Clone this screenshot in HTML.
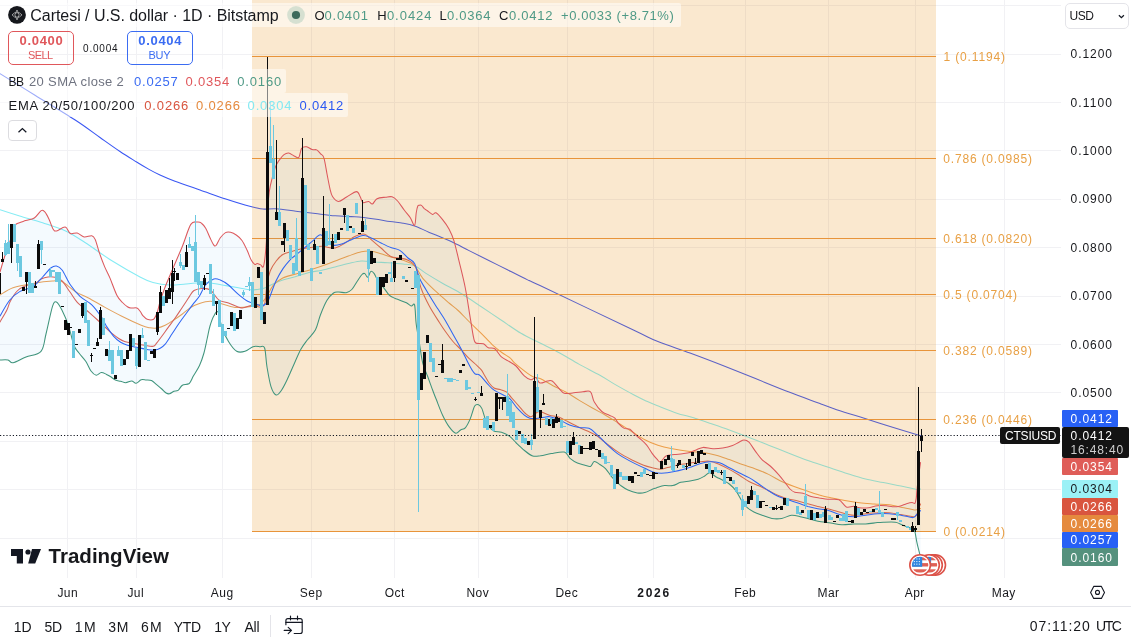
<!DOCTYPE html>
<html><head><meta charset="utf-8"><title>CTSIUSD</title>
<style>
html,body{margin:0;padding:0;background:#fff;}
body{width:1131px;height:641px;position:relative;overflow:hidden;font-family:"Liberation Sans",sans-serif;}
#ui{position:absolute;left:0;top:0;width:1131px;height:641px;will-change:transform;}
.t{position:absolute;white-space:nowrap;line-height:20px;height:20px;}
.b{position:absolute;}
svg{position:absolute;left:0;top:0;}
</style></head><body>

<div id="ui">
<svg width="1131" height="641" viewBox="0 0 1131 641">
<g stroke="#f1f1f4" stroke-width="1" shape-rendering="crispEdges">
<line x1="67.5" y1="0" x2="67.5" y2="578"/>
<line x1="136.5" y1="0" x2="136.5" y2="578"/>
<line x1="222.5" y1="0" x2="222.5" y2="578"/>
<line x1="311.5" y1="0" x2="311.5" y2="578"/>
<line x1="394.5" y1="0" x2="394.5" y2="578"/>
<line x1="478.5" y1="0" x2="478.5" y2="578"/>
<line x1="567.5" y1="0" x2="567.5" y2="578"/>
<line x1="653.5" y1="0" x2="653.5" y2="578"/>
<line x1="745.5" y1="0" x2="745.5" y2="578"/>
<line x1="828.5" y1="0" x2="828.5" y2="578"/>
<line x1="915.5" y1="0" x2="915.5" y2="578"/>
<line x1="1004.5" y1="0" x2="1004.5" y2="578"/>
<line x1="0" y1="5.5" x2="1061" y2="5.5"/>
<line x1="0" y1="54.5" x2="1061" y2="54.5"/>
<line x1="0" y1="102.5" x2="1061" y2="102.5"/>
<line x1="0" y1="150.5" x2="1061" y2="150.5"/>
<line x1="0" y1="199.5" x2="1061" y2="199.5"/>
<line x1="0" y1="247.5" x2="1061" y2="247.5"/>
<line x1="0" y1="296.5" x2="1061" y2="296.5"/>
<line x1="0" y1="344.5" x2="1061" y2="344.5"/>
<line x1="0" y1="392.5" x2="1061" y2="392.5"/>
<line x1="0" y1="441.5" x2="1061" y2="441.5"/>
<line x1="0" y1="489.5" x2="1061" y2="489.5"/>
<line x1="0" y1="538.5" x2="1061" y2="538.5"/>
</g>
<g fill="none" stroke-width="1.05" stroke-linejoin="round" stroke-linecap="round">
<path d="M0.0 73.6C5.8 77.2 22.5 87.5 35.0 95.2C47.5 102.9 64.4 113.0 75.2 120.0C86.0 127.0 92.5 132.2 100.0 137.5C107.5 142.8 113.9 147.4 120.0 151.5C126.1 155.6 131.8 159.0 136.6 162.0C141.4 165.0 145.1 167.2 149.0 169.4C152.9 171.6 155.7 173.0 160.0 175.0C164.3 177.0 168.3 178.7 175.0 181.2C181.7 183.7 191.7 187.1 200.0 190.0C208.3 192.9 217.5 196.3 225.0 198.8C232.5 201.3 240.1 203.6 245.0 205.0C249.9 206.4 251.7 206.7 254.7 207.4C257.7 208.1 259.4 208.9 263.0 209.1C266.6 209.3 270.7 208.5 276.2 208.8C281.7 209.2 289.3 210.4 295.9 211.2C302.4 212.0 308.9 212.7 315.5 213.5C322.1 214.3 328.6 215.2 335.2 215.8C341.8 216.4 348.2 216.3 354.8 216.8C361.4 217.3 368.6 218.2 374.5 219.0C380.4 219.8 385.2 220.9 390.0 221.6C394.8 222.3 398.9 222.5 403.0 223.2C407.1 223.9 410.2 224.4 414.6 225.9C419.0 227.4 423.6 230.0 429.3 232.4C435.0 234.8 442.4 237.6 449.0 240.6C455.6 243.6 462.1 247.1 468.6 250.4C475.2 253.7 481.8 256.9 488.3 260.2C494.9 263.5 501.3 266.7 507.9 270.0C514.4 273.3 522.2 277.3 527.6 279.9C533.0 282.5 522.4 277.1 540.0 285.5C557.6 293.9 613.8 320.7 633.4 330.0C653.0 339.3 648.5 337.7 657.9 341.5C667.3 345.3 679.2 349.0 690.0 353.0C700.8 357.0 711.9 361.2 722.8 365.5C733.7 369.8 744.6 374.2 755.5 378.6C766.4 383.0 777.4 387.6 788.3 391.8C799.2 396.0 812.4 400.7 821.0 403.9C829.6 407.1 833.6 408.6 840.0 410.8C846.4 413.0 851.4 414.2 859.6 416.8C867.8 419.4 879.4 423.2 889.3 426.3C899.2 429.4 913.7 433.7 918.9 435.2C924.1 436.7 920.2 435.4 920.5 435.5" stroke="#3a57f3"/>
<path d="M0.0 209.7C3.3 210.8 12.6 213.8 19.7 216.0C26.8 218.2 35.0 220.3 42.6 222.8C50.2 225.3 58.5 227.7 65.6 231.0C72.7 234.3 77.3 237.6 85.0 242.5C92.7 247.4 102.3 254.8 111.5 260.5C120.7 266.2 133.1 273.3 140.0 277.0C146.9 280.7 148.1 281.2 153.0 282.5C157.9 283.8 164.0 284.8 169.5 285.0C175.0 285.2 180.0 284.4 186.0 284.0C192.0 283.6 199.6 282.3 205.6 282.5C211.6 282.7 216.5 284.1 222.0 285.0C227.5 285.9 233.7 286.9 238.4 287.7C243.1 288.5 246.9 289.5 250.0 289.8C253.1 290.1 254.6 289.8 257.0 289.5C259.4 289.2 262.0 288.9 264.7 288.0C267.4 287.1 270.0 285.3 273.0 284.0C276.0 282.7 279.0 281.2 282.8 280.0C286.6 278.8 291.6 277.8 296.0 276.5C300.4 275.2 304.7 273.6 309.0 272.5C313.3 271.4 317.6 271.1 322.0 270.2C326.4 269.3 330.8 268.1 335.2 267.0C339.6 265.9 343.9 264.6 348.3 263.6C352.7 262.6 357.0 261.3 361.4 261.0C365.8 260.7 370.1 261.7 374.5 262.0C378.9 262.3 382.9 262.4 387.6 262.7C392.4 263.0 398.5 263.4 403.0 263.9C407.5 264.4 410.8 264.2 414.6 265.8C418.4 267.4 421.4 270.5 426.0 273.4C430.6 276.3 436.4 279.8 442.4 283.2C448.4 286.6 455.4 290.0 462.0 294.0C468.6 298.0 475.1 302.6 481.7 307.0C488.3 311.4 494.8 315.8 501.4 320.2C507.9 324.6 514.6 329.5 521.0 333.3C527.4 337.1 533.5 339.7 540.0 343.0C546.5 346.3 553.2 349.4 559.7 353.0C566.2 356.6 572.6 360.7 579.3 364.4C586.0 368.1 594.0 371.9 599.9 375.2C605.8 378.5 609.3 381.1 614.9 384.4C620.5 387.6 628.0 391.8 633.6 394.7C639.2 397.6 644.2 400.1 648.6 402.1C653.0 404.1 655.2 404.9 660.0 406.8C664.8 408.7 672.6 411.8 677.6 413.5C682.6 415.2 684.6 415.2 690.0 416.8C695.4 418.4 703.2 421.0 709.7 423.2C716.2 425.4 722.8 427.6 729.3 430.0C735.8 432.4 742.5 434.9 749.0 437.4C755.5 439.9 762.1 442.6 768.6 445.2C775.1 447.8 781.8 450.4 788.3 453.0C794.8 455.6 801.3 458.2 807.9 460.5C814.5 462.8 821.0 464.8 827.6 467.0C834.2 469.2 841.5 471.7 847.8 473.7C854.1 475.7 859.7 477.5 865.6 479.0C871.5 480.5 877.4 481.4 883.3 482.6C889.2 483.8 895.5 484.9 901.0 486.0C906.5 487.1 912.8 488.9 916.0 489.4C919.2 489.9 919.8 489.1 920.5 489.0" stroke="#86ecf4"/>
<path d="M0.0 295.0C2.2 293.8 7.5 289.6 13.0 287.7C18.5 285.8 26.2 284.5 32.8 283.4C39.4 282.3 47.6 281.3 52.5 281.0C57.4 280.7 58.5 280.0 62.3 281.8C66.1 283.6 71.0 288.9 75.4 291.6C79.8 294.3 83.6 295.4 88.5 298.0C93.4 300.6 99.5 304.4 105.0 307.4C110.5 310.4 115.3 313.0 121.3 316.0C127.3 319.0 136.4 323.2 141.2 325.2C145.9 327.2 147.2 327.3 149.8 327.8C152.4 328.3 154.0 328.5 156.6 328.1C159.2 327.7 162.3 326.6 165.2 325.2C168.1 323.8 170.9 321.9 173.8 320.0C176.7 318.1 179.5 316.1 182.4 314.0C185.3 311.9 188.2 309.0 191.0 307.2C193.8 305.4 196.3 304.4 199.5 303.4C202.7 302.4 206.8 301.3 210.0 301.2C213.2 301.1 214.5 302.0 218.7 303.0C222.9 304.0 229.5 306.8 235.0 307.4C240.5 308.0 247.4 306.9 251.5 306.4C255.6 305.9 257.3 306.1 259.8 304.5C262.3 302.9 264.2 300.1 266.4 297.0C268.6 293.9 270.3 288.8 273.0 285.6C275.7 282.4 279.0 279.9 282.8 278.0C286.6 276.1 291.5 275.3 295.9 274.0C300.3 272.7 304.6 271.5 309.0 270.2C313.4 268.9 317.6 267.5 322.0 266.0C326.4 264.5 330.8 262.7 335.2 261.0C339.6 259.3 343.9 257.5 348.3 256.0C352.7 254.5 357.6 252.6 361.4 251.8C365.2 251.0 367.9 250.9 371.2 251.2C374.5 251.5 377.7 252.8 381.0 253.8C384.3 254.8 387.1 255.9 390.8 257.0C394.5 258.1 399.0 258.7 403.0 260.2C407.0 261.7 411.3 262.8 414.6 265.8C417.9 268.8 419.2 274.0 422.8 278.3C426.4 282.6 431.5 287.3 435.9 291.4C440.3 295.5 445.3 299.8 449.0 303.0C452.7 306.2 454.8 307.4 458.1 310.5C461.4 313.6 465.1 317.6 469.0 321.5C472.9 325.4 477.6 329.7 481.5 333.6C485.4 337.5 489.0 341.7 492.4 344.8C495.8 347.9 498.9 350.3 501.8 352.5C504.7 354.7 507.9 356.1 510.0 357.8C512.1 359.5 511.6 360.2 514.5 362.8C517.4 365.4 524.4 370.9 527.6 373.3C530.9 375.7 531.9 376.3 534.0 377.2C536.1 378.1 536.8 377.1 540.0 378.5C543.2 379.9 548.6 383.4 553.0 385.7C557.4 388.0 561.8 389.8 566.2 392.2C570.6 394.6 574.9 397.8 579.3 400.4C583.7 403.0 588.0 405.5 592.4 408.0C596.8 410.5 601.1 412.6 605.5 415.2C609.9 417.8 614.2 420.6 618.6 423.3C623.0 426.0 627.3 428.8 631.7 431.5C636.1 434.2 640.4 437.4 644.8 439.7C649.2 442.0 653.5 443.8 657.9 445.3C662.3 446.8 665.6 447.6 671.0 448.6C676.4 449.6 684.7 450.9 690.0 451.5C695.3 452.1 698.6 451.8 703.0 452.4C707.4 453.0 711.8 454.1 716.2 455.3C720.6 456.5 724.9 458.1 729.3 459.6C733.7 461.1 738.0 462.9 742.4 464.5C746.8 466.1 751.1 467.2 755.5 468.9C759.9 470.5 764.2 472.3 768.6 474.4C773.0 476.5 777.3 479.4 781.7 481.5C786.1 483.6 790.4 485.1 794.8 486.7C799.2 488.3 803.5 489.8 807.9 491.3C812.3 492.8 817.3 494.6 821.0 495.6C824.7 496.6 826.0 496.7 830.0 497.5C834.0 498.3 839.9 499.5 844.8 500.4C849.7 501.3 854.7 502.1 859.6 502.7C864.5 503.3 869.5 503.6 874.4 504.0C879.3 504.4 884.4 504.2 889.3 504.8C894.2 505.4 899.8 507.0 904.0 507.8C908.2 508.6 911.9 509.6 914.4 509.9C916.9 510.1 917.9 509.5 918.9 509.3C919.9 509.1 920.2 508.6 920.5 508.5" stroke="#eea257"/>
<path d="M0.0 322.0C1.1 320.0 5.2 313.4 6.9 310.0C8.6 306.6 8.6 304.5 10.3 301.3C12.0 298.1 14.6 293.6 17.2 291.0C19.8 288.4 22.9 286.9 25.7 285.8C28.5 284.7 31.7 285.2 34.3 284.1C36.9 283.0 38.9 280.2 41.2 279.0C43.5 277.8 45.7 277.2 48.0 276.9C50.3 276.6 52.6 276.6 54.9 277.2C57.2 277.8 59.3 278.2 61.8 280.7C64.3 283.2 67.4 288.4 70.0 292.0C72.6 295.6 74.1 298.9 77.3 302.3C80.5 305.7 86.0 309.7 89.3 312.6C92.6 315.5 94.4 317.1 97.0 319.5C99.6 321.9 102.6 324.7 105.0 327.0C107.4 329.3 109.4 331.4 111.6 333.2C113.8 335.0 115.8 336.6 118.0 338.0C120.2 339.4 121.9 340.6 124.6 341.5C127.3 342.4 131.0 342.9 134.3 343.5C137.6 344.1 141.4 344.8 144.6 345.3C147.8 345.8 151.2 346.7 153.2 346.3C155.2 345.9 155.2 344.9 156.6 343.2C158.0 341.5 159.8 339.0 161.8 336.3C163.8 333.6 166.3 330.0 168.6 326.9C170.9 323.8 173.2 320.8 175.5 317.5C177.8 314.2 180.1 310.6 182.4 307.2C184.7 303.8 187.3 299.7 189.2 296.9C191.1 294.1 191.8 291.9 194.0 290.5C196.2 289.1 199.6 288.5 202.3 288.4C205.1 288.3 207.8 288.1 210.5 290.0C213.2 291.9 215.7 297.6 218.7 299.8C221.7 302.0 224.7 301.6 228.5 303.0C232.3 304.4 237.8 307.6 241.6 308.0C245.4 308.4 248.5 305.6 251.5 305.4C254.5 305.2 257.6 307.3 259.8 307.0C262.0 306.7 263.5 307.4 264.7 303.6C265.9 299.8 266.1 289.5 267.0 284.0C267.9 278.5 268.8 274.6 270.3 270.8C271.8 267.0 274.1 263.7 276.2 261.0C278.3 258.3 280.1 256.1 282.8 254.5C285.5 252.9 289.3 252.2 292.6 251.2C295.9 250.2 299.1 249.2 302.4 248.6C305.7 247.9 308.9 247.7 312.2 247.3C315.5 246.9 318.2 246.2 322.0 246.3C325.8 246.4 331.4 248.6 335.2 248.0C339.0 247.4 341.7 244.9 345.0 243.0C348.3 241.1 351.5 238.0 354.8 236.5C358.1 235.0 361.9 233.7 364.6 234.2C367.3 234.7 368.5 237.4 371.2 239.7C373.9 242.0 377.7 245.2 381.0 248.0C384.3 250.8 387.7 254.8 390.8 256.5C393.9 258.2 396.9 257.4 399.8 258.0C402.7 258.6 405.4 258.7 408.0 260.2C410.6 261.7 413.3 262.2 415.5 266.8C417.7 271.4 418.7 281.5 421.0 288.0C423.3 294.5 426.2 300.2 429.3 306.0C432.4 311.8 436.7 318.2 439.4 322.5C442.1 326.8 443.3 328.6 445.6 331.8C447.9 335.1 450.8 339.0 453.4 342.0C456.0 345.0 458.6 347.1 461.2 349.8C463.8 352.5 466.4 355.8 469.0 358.4C471.6 361.0 474.7 363.4 476.8 365.4C478.9 367.3 480.2 368.4 481.5 370.1C482.8 371.8 483.3 373.3 484.6 375.5C485.9 377.7 487.7 381.2 489.3 383.3C490.9 385.4 492.2 386.9 494.0 388.0C495.8 389.1 498.1 389.0 500.2 389.6C502.3 390.2 504.6 390.6 506.4 391.9C508.2 393.2 509.1 395.0 511.2 397.3C513.2 399.6 516.2 403.0 518.7 405.8C521.2 408.6 524.2 412.4 526.2 414.2C528.2 416.0 529.4 417.0 531.0 416.8C532.6 416.6 534.5 413.9 536.0 413.0C537.5 412.1 537.8 411.1 540.0 411.5C542.2 411.9 546.3 414.3 549.4 415.2C552.5 416.1 555.6 416.0 558.7 417.1C561.8 418.2 565.0 420.2 568.1 421.8C571.2 423.4 574.3 425.0 577.4 426.5C580.5 428.0 583.7 429.3 586.8 430.8C589.9 432.3 593.1 433.3 596.2 435.3C599.3 437.3 602.4 440.4 605.5 442.8C608.6 445.2 611.8 447.7 614.9 449.9C618.0 452.1 621.1 454.1 624.2 455.9C627.3 457.7 630.5 459.2 633.6 460.7C636.7 462.2 639.9 463.7 643.0 464.9C646.1 466.1 649.5 467.0 652.3 467.7C655.1 468.4 657.4 469.3 660.0 469.3C662.6 469.3 664.8 468.3 667.7 467.6C670.6 466.9 673.9 465.7 677.6 465.0C681.3 464.3 686.3 463.7 690.0 463.2C693.7 462.7 696.5 462.1 699.8 461.8C703.1 461.5 706.4 460.8 709.7 461.2C713.0 461.6 716.2 463.1 719.5 464.5C722.8 465.9 726.0 467.6 729.3 469.4C732.5 471.1 735.7 473.0 739.0 475.0C742.3 477.0 745.7 479.7 749.0 481.5C752.3 483.3 755.5 484.3 758.8 485.8C762.1 487.3 765.3 489.1 768.6 490.7C771.9 492.3 775.1 494.2 778.4 495.6C781.7 497.0 785.0 498.0 788.3 498.9C791.6 499.8 794.7 500.2 798.0 501.0C801.3 501.8 804.6 502.9 807.9 503.8C811.2 504.7 814.4 505.6 817.7 506.4C821.0 507.2 823.6 507.6 827.6 508.7C831.6 509.8 837.5 511.7 841.9 512.8C846.2 513.9 849.8 515.1 853.7 515.2C857.7 515.4 861.7 514.1 865.6 513.7C869.5 513.3 873.5 512.9 877.4 512.8C881.3 512.6 885.4 512.5 889.3 512.8C893.2 513.1 897.0 514.0 901.0 514.6C905.0 515.2 910.4 516.6 913.0 516.7C915.6 516.8 915.5 516.7 916.5 515.2C917.5 513.7 918.2 509.7 918.9 507.8C919.6 505.9 920.2 504.6 920.5 504.0" stroke="#de5f55"/>
</g>
<rect x="252" y="0" width="684" height="531.5" fill="rgb(230,140,15)" fill-opacity="0.2"/>
<g stroke="#e8943a" stroke-width="1" shape-rendering="crispEdges">
<line x1="252" y1="56.5" x2="936" y2="56.5"/>
<line x1="252" y1="158.5" x2="936" y2="158.5"/>
<line x1="252" y1="238.5" x2="936" y2="238.5"/>
<line x1="252" y1="294.5" x2="936" y2="294.5"/>
<line x1="252" y1="350.5" x2="936" y2="350.5"/>
<line x1="252" y1="419.5" x2="936" y2="419.5"/>
<line x1="252" y1="531.5" x2="936" y2="531.5"/>
</g>
<path d="M0.0 272.0C0.8 269.2 3.4 260.3 5.1 255.0C6.8 249.7 8.9 244.8 10.3 240.3C11.7 235.9 12.7 231.0 13.7 228.3C14.7 225.6 14.3 225.3 16.3 224.0C18.3 222.7 22.7 221.6 25.7 220.6C28.7 219.6 31.7 219.7 34.3 218.0C36.9 216.3 39.5 211.7 41.2 210.6C42.9 209.5 43.3 210.3 44.6 211.7C45.9 213.1 47.5 216.0 48.9 218.9C50.3 221.8 51.9 227.2 53.2 229.2C54.5 231.2 54.6 231.2 56.6 230.9C58.6 230.6 62.9 226.7 65.2 227.1C67.5 227.5 68.4 232.5 70.4 233.5C72.4 234.5 74.9 232.4 77.2 233.0C79.5 233.6 81.7 236.5 84.1 236.9C86.5 237.3 89.9 235.3 91.8 235.7C93.7 236.1 93.9 236.6 95.2 239.5C96.5 242.4 97.9 248.6 99.5 253.2C101.1 257.8 103.0 262.8 104.7 266.9C106.5 271.0 108.0 273.3 110.0 278.1C112.0 282.9 114.9 291.4 117.0 295.5C119.1 299.6 120.7 300.6 122.5 302.5C124.3 304.4 126.3 306.1 127.8 307.0C129.3 307.9 130.0 307.8 131.5 308.0C133.0 308.2 135.4 307.4 136.9 308.0C138.4 308.6 139.3 310.2 140.3 311.5C141.3 312.8 141.8 314.4 142.9 315.7C144.1 317.0 145.5 318.6 147.2 319.2C148.9 319.8 151.8 320.1 153.2 319.5C154.6 318.9 155.1 317.0 155.8 315.7C156.5 314.4 156.8 313.8 157.5 311.5C158.2 309.2 158.8 305.9 160.0 302.0C161.2 298.1 162.5 293.9 164.6 288.4C166.7 282.8 169.8 275.8 172.8 268.7C175.8 261.6 179.6 253.1 182.6 245.7C185.6 238.3 188.3 228.3 190.8 224.4C193.3 220.5 195.6 222.2 197.4 222.0C199.2 221.8 200.1 222.1 201.5 223.2C202.9 224.2 204.3 225.9 205.7 228.3C207.1 230.7 208.7 235.1 210.0 237.8C211.3 240.5 212.5 243.3 213.5 244.6C214.5 245.9 214.9 246.6 216.0 245.5C217.1 244.4 218.7 240.0 220.3 237.8C221.9 235.7 223.8 233.5 225.5 232.6C227.2 231.7 228.8 231.9 230.6 232.3C232.4 232.7 234.7 233.9 236.6 235.2C238.5 236.5 240.1 237.9 241.8 240.3C243.5 242.7 245.3 246.5 246.9 249.8C248.5 253.1 249.9 257.7 251.2 260.1C252.5 262.5 253.7 263.8 254.7 264.4C255.7 265.0 256.2 263.4 257.2 263.5C258.2 263.6 259.7 264.3 260.7 264.9C261.7 265.5 262.5 268.0 263.2 266.9C263.9 265.8 264.4 262.6 264.9 258.3C265.4 254.1 265.8 251.1 266.4 241.4C267.0 231.7 267.7 209.5 268.4 200.0C269.1 190.5 269.5 189.7 270.7 184.2C271.9 178.7 274.0 171.1 275.4 167.1C276.8 163.1 277.9 162.2 279.3 160.1C280.7 158.0 282.4 155.8 284.0 154.6C285.6 153.4 287.0 152.8 288.7 153.0C290.4 153.2 292.4 155.2 294.1 155.9C295.8 156.6 297.6 158.7 298.8 157.4C300.1 156.2 300.3 150.2 301.6 148.4C302.9 146.6 304.9 146.6 306.6 146.8C308.4 147.0 310.4 149.1 312.1 149.6C313.8 150.1 315.3 149.2 316.7 149.9C318.1 150.6 319.4 152.5 320.6 153.8C321.8 155.1 322.8 154.4 323.8 157.7C324.9 160.9 325.9 168.1 326.9 173.3C327.9 178.5 329.1 185.0 330.0 188.9C330.9 192.8 331.1 194.4 332.5 196.5C333.9 198.6 336.0 201.3 338.4 201.4C340.8 201.5 343.6 198.6 346.6 197.0C349.6 195.4 354.2 191.6 356.5 191.6C358.8 191.6 359.1 195.0 360.2 196.8C361.3 198.6 361.6 201.7 363.0 202.5C364.4 203.3 367.0 201.2 368.6 201.5C370.2 201.8 371.0 204.5 372.4 204.0C373.8 203.5 374.8 199.8 377.0 198.7C379.2 197.6 383.0 197.5 385.5 197.2C388.0 196.9 390.0 196.2 392.0 196.8C394.0 197.4 395.6 198.8 397.6 201.0C399.6 203.2 402.1 207.2 404.2 210.0C406.3 212.8 408.6 215.1 410.3 217.7C412.0 220.3 413.6 226.2 414.6 225.4C415.6 224.6 415.7 216.2 416.2 213.0C416.7 209.8 417.2 207.3 417.8 206.0C418.4 204.7 419.0 205.3 419.6 205.2C420.2 205.1 420.7 204.8 421.5 205.4C422.3 206.0 423.4 207.8 424.3 208.7C425.2 209.5 425.6 209.6 427.0 210.5C428.4 211.4 431.1 214.0 432.6 214.4C434.1 214.8 434.3 212.0 435.9 212.8C437.5 213.6 440.2 216.6 442.4 219.3C444.6 222.0 447.1 225.4 449.0 229.0C450.9 232.6 452.3 235.4 453.9 240.6C455.5 245.8 456.9 252.3 458.8 260.2C460.7 268.1 463.4 278.4 465.3 288.0C467.2 297.6 468.8 309.4 470.2 317.6C471.6 325.8 472.6 333.0 473.5 337.2C474.4 341.4 474.2 341.9 475.8 343.0C477.4 344.1 481.3 343.0 483.4 343.8C485.5 344.6 486.4 346.9 488.3 347.7C490.2 348.5 492.6 347.2 494.8 348.7C497.0 350.2 498.9 354.7 501.4 356.9C503.9 359.1 507.2 360.3 509.6 361.8C512.0 363.3 513.5 363.6 516.0 366.0C518.5 368.4 521.8 373.6 524.3 375.9C526.8 378.2 528.9 379.5 530.8 379.8C532.7 380.1 534.3 377.0 535.8 377.5C537.3 378.0 538.0 382.4 540.0 383.0C542.0 383.6 545.5 381.3 547.5 381.0C549.5 380.7 550.3 379.8 552.2 381.0C554.1 382.2 556.7 386.1 558.7 388.1C560.7 390.2 561.8 392.5 564.3 393.3C566.8 394.1 570.6 393.1 573.7 392.8C576.8 392.6 580.2 392.0 583.0 391.8C585.8 391.6 588.6 390.1 590.5 391.8C592.4 393.5 592.4 398.8 594.3 402.1C596.2 405.4 599.3 409.3 601.8 411.5C604.3 413.7 607.1 414.1 609.3 415.2C611.5 416.3 613.3 416.7 614.9 418.1C616.5 419.5 617.0 422.0 618.6 423.7C620.2 425.4 622.3 427.5 624.2 428.4C626.1 429.3 628.0 428.2 629.9 429.3C631.8 430.4 633.6 433.2 635.5 434.9C637.4 436.6 639.2 437.9 641.1 439.6C643.0 441.3 644.8 442.9 646.7 445.2C648.6 447.5 650.6 451.3 652.3 453.6C654.0 455.9 655.6 457.8 657.0 459.2C658.4 460.6 659.0 462.4 660.5 461.9C662.0 461.4 663.7 457.2 666.0 456.0C668.3 454.8 671.5 454.9 674.3 454.5C677.0 454.1 679.9 454.2 682.5 453.8C685.1 453.4 687.6 453.1 690.0 452.4C692.4 451.7 694.4 450.5 696.6 449.7C698.8 448.9 700.3 447.6 703.0 447.4C705.7 447.2 709.7 448.6 713.0 448.7C716.3 448.8 719.5 448.5 722.8 448.0C726.1 447.5 729.9 446.5 732.6 445.5C735.3 444.5 737.1 443.1 739.0 442.2C740.9 441.3 742.3 440.0 744.0 440.0C745.7 440.0 747.1 440.3 749.0 442.2C750.9 444.1 753.3 448.5 755.5 451.4C757.7 454.3 759.5 457.2 762.0 459.6C764.5 462.0 767.5 463.6 770.2 466.0C772.9 468.4 775.9 471.6 778.4 474.3C780.9 477.1 783.1 480.1 785.0 482.5C786.9 484.9 788.4 487.4 790.0 489.0C791.6 490.6 792.6 491.6 794.8 492.3C797.0 493.0 800.3 492.6 803.0 493.3C805.7 494.0 808.5 495.8 811.2 496.6C813.9 497.4 816.7 497.4 819.4 497.9C822.1 498.3 824.4 499.0 827.6 499.3C830.9 499.6 835.8 498.5 838.9 499.8C842.0 501.1 843.8 505.8 846.3 506.9C848.8 508.0 851.5 506.1 853.7 506.3C855.9 506.5 857.1 507.6 859.6 507.8C862.1 508.1 865.5 508.2 868.5 507.8C871.5 507.4 874.4 506.0 877.4 505.7C880.4 505.4 883.8 505.6 886.3 505.8C888.8 506.0 890.2 506.6 892.4 506.7C894.6 506.8 897.1 506.7 899.5 506.2C901.9 505.7 904.4 504.3 906.5 503.7C908.6 503.1 910.6 502.6 912.0 502.5C913.4 502.4 914.2 504.1 914.9 503.4C915.6 502.6 915.9 500.3 916.3 498.0C916.6 495.7 916.6 493.3 917.0 489.6C917.4 485.9 918.0 480.3 918.6 475.8C919.2 471.3 920.2 464.7 920.5 462.5L920.6 557.0C920.5 556.5 920.4 556.6 919.8 554.2C919.2 551.9 917.8 546.6 917.0 542.9C916.2 539.1 915.5 533.9 914.9 531.7C914.3 529.5 914.2 530.2 913.5 529.6C912.8 529.0 912.1 528.8 910.7 528.2C909.3 527.6 906.8 526.8 905.0 526.1C903.2 525.4 901.8 524.6 900.2 524.0C898.6 523.4 897.9 522.5 895.2 522.2C892.5 521.9 887.0 522.1 884.0 522.2C881.0 522.3 880.5 522.3 877.4 522.6C874.3 522.9 869.5 523.8 865.6 524.0C861.7 524.2 857.7 523.9 853.7 524.0C849.8 524.1 845.7 524.9 841.9 524.7C838.1 524.5 834.3 523.5 830.8 523.0C827.3 522.5 824.3 522.4 821.0 521.8C817.7 521.2 814.5 520.3 811.2 519.5C807.9 518.7 804.7 517.6 801.4 516.9C798.1 516.2 794.8 514.9 791.5 515.2C788.2 515.5 785.0 518.0 781.7 518.5C778.4 519.0 775.2 519.0 771.9 518.5C768.6 518.0 765.0 516.3 762.0 515.2C759.0 514.1 756.4 513.2 753.9 512.0C751.4 510.8 749.2 509.4 747.3 507.7C745.4 506.0 744.3 504.8 742.4 502.0C740.5 499.2 738.1 493.7 735.9 490.7C733.7 487.7 731.5 485.8 729.3 484.0C727.1 482.2 725.0 481.4 722.8 480.2C720.6 479.0 718.4 478.2 716.2 477.0C714.0 475.8 711.6 472.9 709.7 472.7C707.8 472.5 706.6 474.9 704.7 476.0C702.8 477.1 700.7 478.4 698.2 479.2C695.8 480.0 692.9 480.5 690.0 481.0C687.1 481.5 683.7 481.5 680.8 482.3C677.9 483.1 675.4 485.1 672.7 485.6C670.0 486.2 667.2 485.2 664.5 485.6C661.8 486.0 658.3 487.3 656.3 487.9C654.3 488.5 654.2 488.4 652.3 489.2C650.4 490.0 647.3 492.0 644.8 492.6C642.3 493.2 640.1 493.3 637.3 492.9C634.5 492.5 630.8 491.4 628.0 490.1C625.2 488.9 622.7 487.0 620.5 485.4C618.3 483.8 616.5 481.8 614.9 480.2C613.3 478.6 612.7 478.0 611.1 476.1C609.5 474.2 607.4 470.5 605.5 468.6C603.6 466.7 601.8 465.7 599.9 464.5C598.0 463.3 595.9 461.2 594.3 461.5C592.7 461.8 592.1 465.8 590.5 466.4C588.9 467.0 587.1 465.8 584.9 465.2C582.7 464.6 579.9 464.1 577.4 463.0C574.9 461.9 572.2 460.1 570.0 458.3C567.8 456.5 567.4 452.9 564.3 452.1C561.2 451.3 555.1 453.0 551.2 453.6C547.3 454.2 543.9 455.3 540.8 455.7C537.7 456.1 535.4 456.9 532.7 456.0C530.0 455.1 527.2 452.7 524.5 450.5C521.8 448.3 518.8 445.4 516.3 443.0C513.8 440.6 512.2 438.2 509.7 436.4C507.2 434.6 504.2 433.1 501.5 432.2C498.8 431.3 495.8 432.4 493.3 430.9C490.9 429.4 488.7 427.0 486.8 423.3C484.9 419.6 483.3 411.7 481.9 408.6C480.5 405.5 479.8 405.1 478.6 404.7C477.4 404.3 476.1 403.7 474.7 406.0C473.3 408.3 471.9 414.8 470.4 418.4C468.9 422.0 467.1 425.7 465.5 427.6C463.9 429.5 462.2 429.1 460.6 430.0C459.0 430.9 457.6 433.8 455.7 433.2C453.8 432.6 451.2 429.6 449.0 426.6C446.8 423.6 444.8 419.8 442.6 415.2C440.4 410.6 437.7 403.0 436.0 398.8C434.3 394.6 434.0 393.7 432.6 390.0C431.2 386.3 429.3 380.9 427.7 376.5C426.1 372.1 424.2 368.8 422.8 363.4C421.4 357.9 420.6 350.4 419.5 343.8C418.4 337.2 417.0 330.5 416.2 324.0C415.4 317.5 415.4 308.0 414.6 305.0C413.8 302.0 412.7 306.4 411.3 306.0C409.9 305.6 408.6 303.9 406.4 302.8C404.2 301.7 400.1 300.4 398.2 299.6C396.3 298.9 396.3 299.1 394.8 298.3C393.3 297.6 391.1 296.9 389.2 295.1C387.3 293.3 385.5 290.0 383.6 287.6C381.7 285.2 379.6 283.3 378.0 281.0C376.4 278.7 375.4 275.2 374.2 273.6C373.0 272.0 372.0 270.8 370.9 271.4C369.8 272.0 368.7 276.9 367.7 277.3C366.7 277.7 365.8 274.1 364.9 273.6C363.9 273.1 363.2 273.3 362.0 274.5C360.8 275.7 359.1 278.5 357.4 281.0C355.7 283.5 353.7 287.6 351.8 289.5C349.9 291.4 348.4 292.3 346.2 292.7C344.0 293.1 340.8 291.9 338.7 292.0C336.6 292.1 335.4 291.6 333.5 293.0C331.6 294.4 329.2 296.6 327.0 300.3C324.8 304.0 322.3 310.1 320.4 315.0C318.5 319.9 317.7 325.6 315.5 329.8C313.3 334.0 309.7 336.8 307.3 340.0C304.9 343.2 303.1 345.3 301.0 349.0C298.9 352.7 297.3 356.8 295.0 362.0C292.7 367.2 289.3 375.2 287.0 380.0C284.7 384.8 282.8 388.5 281.0 391.0C279.2 393.5 277.7 395.7 276.0 395.0C274.3 394.3 272.5 391.4 271.0 386.7C269.5 382.0 268.1 373.4 267.0 367.0C265.9 360.6 265.8 351.4 264.6 348.0C263.4 344.6 261.6 346.9 259.7 346.7C257.8 346.5 255.4 345.9 253.0 346.7C250.6 347.5 247.7 350.5 245.0 351.3C242.3 352.1 239.4 352.9 236.7 351.3C233.9 349.7 230.9 345.4 228.5 341.5C226.1 337.6 223.8 332.6 222.0 327.7C220.2 322.8 219.4 313.9 218.0 312.0C216.6 310.1 215.1 313.7 213.8 316.0C212.5 318.3 211.1 322.3 210.0 326.0C208.9 329.7 208.3 333.4 207.3 338.0C206.3 342.6 205.1 348.9 203.8 353.5C202.5 358.1 201.2 361.8 199.5 365.5C197.8 369.2 195.2 372.8 193.5 375.8C191.8 378.8 191.0 381.9 189.2 383.5C187.3 385.1 184.2 384.1 182.4 385.2C180.6 386.3 179.5 389.4 178.1 390.4C176.7 391.4 175.2 390.7 173.8 391.3C172.4 391.9 170.8 393.5 169.5 393.8C168.2 394.1 167.4 393.8 166.1 393.0C164.8 392.2 163.4 390.4 161.8 389.0C160.2 387.6 158.3 386.0 156.6 384.6C154.9 383.2 153.2 381.4 151.5 380.6C149.8 379.8 148.0 380.1 146.3 380.0C144.6 379.9 142.9 379.2 141.2 379.8C139.5 380.4 137.6 383.1 136.0 383.3C134.4 383.5 133.4 381.1 131.7 381.0C130.0 380.9 127.5 382.7 125.7 382.7C123.9 382.7 122.3 381.6 120.6 381.2C118.9 380.8 117.1 380.9 115.4 380.1C113.7 379.3 111.8 377.4 110.3 376.5C108.8 375.6 108.0 375.1 106.5 374.4C105.0 373.7 103.0 372.4 101.3 372.5C99.6 372.6 97.9 375.4 96.2 375.2C94.5 374.9 92.7 373.3 91.0 371.0C89.3 368.7 87.9 364.5 85.9 361.5C83.9 358.5 81.0 355.7 79.0 353.0C77.0 350.3 75.6 349.6 73.9 345.2C72.2 340.8 70.7 332.2 68.7 326.3C66.7 320.4 64.0 314.1 61.9 310.0C59.8 305.9 58.0 302.6 56.4 302.0C54.8 301.4 54.2 301.1 52.5 306.4C50.8 311.7 47.9 326.5 46.0 334.0C44.1 341.5 44.3 347.5 41.0 351.3C37.7 355.1 30.7 355.1 26.0 357.0C21.3 358.9 16.0 362.3 13.0 362.8C10.0 363.3 10.2 360.5 8.0 360.0C5.8 359.5 1.3 360.0 0.0 360.0Z" fill="rgb(33,150,243)" fill-opacity="0.05"/>
<g fill="none" stroke-width="1.05" stroke-linejoin="round" stroke-linecap="round">
<path d="M0.0 272.0C0.8 269.2 3.4 260.3 5.1 255.0C6.8 249.7 8.9 244.8 10.3 240.3C11.7 235.9 12.7 231.0 13.7 228.3C14.7 225.6 14.3 225.3 16.3 224.0C18.3 222.7 22.7 221.6 25.7 220.6C28.7 219.6 31.7 219.7 34.3 218.0C36.9 216.3 39.5 211.7 41.2 210.6C42.9 209.5 43.3 210.3 44.6 211.7C45.9 213.1 47.5 216.0 48.9 218.9C50.3 221.8 51.9 227.2 53.2 229.2C54.5 231.2 54.6 231.2 56.6 230.9C58.6 230.6 62.9 226.7 65.2 227.1C67.5 227.5 68.4 232.5 70.4 233.5C72.4 234.5 74.9 232.4 77.2 233.0C79.5 233.6 81.7 236.5 84.1 236.9C86.5 237.3 89.9 235.3 91.8 235.7C93.7 236.1 93.9 236.6 95.2 239.5C96.5 242.4 97.9 248.6 99.5 253.2C101.1 257.8 103.0 262.8 104.7 266.9C106.5 271.0 108.0 273.3 110.0 278.1C112.0 282.9 114.9 291.4 117.0 295.5C119.1 299.6 120.7 300.6 122.5 302.5C124.3 304.4 126.3 306.1 127.8 307.0C129.3 307.9 130.0 307.8 131.5 308.0C133.0 308.2 135.4 307.4 136.9 308.0C138.4 308.6 139.3 310.2 140.3 311.5C141.3 312.8 141.8 314.4 142.9 315.7C144.1 317.0 145.5 318.6 147.2 319.2C148.9 319.8 151.8 320.1 153.2 319.5C154.6 318.9 155.1 317.0 155.8 315.7C156.5 314.4 156.8 313.8 157.5 311.5C158.2 309.2 158.8 305.9 160.0 302.0C161.2 298.1 162.5 293.9 164.6 288.4C166.7 282.8 169.8 275.8 172.8 268.7C175.8 261.6 179.6 253.1 182.6 245.7C185.6 238.3 188.3 228.3 190.8 224.4C193.3 220.5 195.6 222.2 197.4 222.0C199.2 221.8 200.1 222.1 201.5 223.2C202.9 224.2 204.3 225.9 205.7 228.3C207.1 230.7 208.7 235.1 210.0 237.8C211.3 240.5 212.5 243.3 213.5 244.6C214.5 245.9 214.9 246.6 216.0 245.5C217.1 244.4 218.7 240.0 220.3 237.8C221.9 235.7 223.8 233.5 225.5 232.6C227.2 231.7 228.8 231.9 230.6 232.3C232.4 232.7 234.7 233.9 236.6 235.2C238.5 236.5 240.1 237.9 241.8 240.3C243.5 242.7 245.3 246.5 246.9 249.8C248.5 253.1 249.9 257.7 251.2 260.1C252.5 262.5 253.7 263.8 254.7 264.4C255.7 265.0 256.2 263.4 257.2 263.5C258.2 263.6 259.7 264.3 260.7 264.9C261.7 265.5 262.5 268.0 263.2 266.9C263.9 265.8 264.4 262.6 264.9 258.3C265.4 254.1 265.8 251.1 266.4 241.4C267.0 231.7 267.7 209.5 268.4 200.0C269.1 190.5 269.5 189.7 270.7 184.2C271.9 178.7 274.0 171.1 275.4 167.1C276.8 163.1 277.9 162.2 279.3 160.1C280.7 158.0 282.4 155.8 284.0 154.6C285.6 153.4 287.0 152.8 288.7 153.0C290.4 153.2 292.4 155.2 294.1 155.9C295.8 156.6 297.6 158.7 298.8 157.4C300.1 156.2 300.3 150.2 301.6 148.4C302.9 146.6 304.9 146.6 306.6 146.8C308.4 147.0 310.4 149.1 312.1 149.6C313.8 150.1 315.3 149.2 316.7 149.9C318.1 150.6 319.4 152.5 320.6 153.8C321.8 155.1 322.8 154.4 323.8 157.7C324.9 160.9 325.9 168.1 326.9 173.3C327.9 178.5 329.1 185.0 330.0 188.9C330.9 192.8 331.1 194.4 332.5 196.5C333.9 198.6 336.0 201.3 338.4 201.4C340.8 201.5 343.6 198.6 346.6 197.0C349.6 195.4 354.2 191.6 356.5 191.6C358.8 191.6 359.1 195.0 360.2 196.8C361.3 198.6 361.6 201.7 363.0 202.5C364.4 203.3 367.0 201.2 368.6 201.5C370.2 201.8 371.0 204.5 372.4 204.0C373.8 203.5 374.8 199.8 377.0 198.7C379.2 197.6 383.0 197.5 385.5 197.2C388.0 196.9 390.0 196.2 392.0 196.8C394.0 197.4 395.6 198.8 397.6 201.0C399.6 203.2 402.1 207.2 404.2 210.0C406.3 212.8 408.6 215.1 410.3 217.7C412.0 220.3 413.6 226.2 414.6 225.4C415.6 224.6 415.7 216.2 416.2 213.0C416.7 209.8 417.2 207.3 417.8 206.0C418.4 204.7 419.0 205.3 419.6 205.2C420.2 205.1 420.7 204.8 421.5 205.4C422.3 206.0 423.4 207.8 424.3 208.7C425.2 209.5 425.6 209.6 427.0 210.5C428.4 211.4 431.1 214.0 432.6 214.4C434.1 214.8 434.3 212.0 435.9 212.8C437.5 213.6 440.2 216.6 442.4 219.3C444.6 222.0 447.1 225.4 449.0 229.0C450.9 232.6 452.3 235.4 453.9 240.6C455.5 245.8 456.9 252.3 458.8 260.2C460.7 268.1 463.4 278.4 465.3 288.0C467.2 297.6 468.8 309.4 470.2 317.6C471.6 325.8 472.6 333.0 473.5 337.2C474.4 341.4 474.2 341.9 475.8 343.0C477.4 344.1 481.3 343.0 483.4 343.8C485.5 344.6 486.4 346.9 488.3 347.7C490.2 348.5 492.6 347.2 494.8 348.7C497.0 350.2 498.9 354.7 501.4 356.9C503.9 359.1 507.2 360.3 509.6 361.8C512.0 363.3 513.5 363.6 516.0 366.0C518.5 368.4 521.8 373.6 524.3 375.9C526.8 378.2 528.9 379.5 530.8 379.8C532.7 380.1 534.3 377.0 535.8 377.5C537.3 378.0 538.0 382.4 540.0 383.0C542.0 383.6 545.5 381.3 547.5 381.0C549.5 380.7 550.3 379.8 552.2 381.0C554.1 382.2 556.7 386.1 558.7 388.1C560.7 390.2 561.8 392.5 564.3 393.3C566.8 394.1 570.6 393.1 573.7 392.8C576.8 392.6 580.2 392.0 583.0 391.8C585.8 391.6 588.6 390.1 590.5 391.8C592.4 393.5 592.4 398.8 594.3 402.1C596.2 405.4 599.3 409.3 601.8 411.5C604.3 413.7 607.1 414.1 609.3 415.2C611.5 416.3 613.3 416.7 614.9 418.1C616.5 419.5 617.0 422.0 618.6 423.7C620.2 425.4 622.3 427.5 624.2 428.4C626.1 429.3 628.0 428.2 629.9 429.3C631.8 430.4 633.6 433.2 635.5 434.9C637.4 436.6 639.2 437.9 641.1 439.6C643.0 441.3 644.8 442.9 646.7 445.2C648.6 447.5 650.6 451.3 652.3 453.6C654.0 455.9 655.6 457.8 657.0 459.2C658.4 460.6 659.0 462.4 660.5 461.9C662.0 461.4 663.7 457.2 666.0 456.0C668.3 454.8 671.5 454.9 674.3 454.5C677.0 454.1 679.9 454.2 682.5 453.8C685.1 453.4 687.6 453.1 690.0 452.4C692.4 451.7 694.4 450.5 696.6 449.7C698.8 448.9 700.3 447.6 703.0 447.4C705.7 447.2 709.7 448.6 713.0 448.7C716.3 448.8 719.5 448.5 722.8 448.0C726.1 447.5 729.9 446.5 732.6 445.5C735.3 444.5 737.1 443.1 739.0 442.2C740.9 441.3 742.3 440.0 744.0 440.0C745.7 440.0 747.1 440.3 749.0 442.2C750.9 444.1 753.3 448.5 755.5 451.4C757.7 454.3 759.5 457.2 762.0 459.6C764.5 462.0 767.5 463.6 770.2 466.0C772.9 468.4 775.9 471.6 778.4 474.3C780.9 477.1 783.1 480.1 785.0 482.5C786.9 484.9 788.4 487.4 790.0 489.0C791.6 490.6 792.6 491.6 794.8 492.3C797.0 493.0 800.3 492.6 803.0 493.3C805.7 494.0 808.5 495.8 811.2 496.6C813.9 497.4 816.7 497.4 819.4 497.9C822.1 498.3 824.4 499.0 827.6 499.3C830.9 499.6 835.8 498.5 838.9 499.8C842.0 501.1 843.8 505.8 846.3 506.9C848.8 508.0 851.5 506.1 853.7 506.3C855.9 506.5 857.1 507.6 859.6 507.8C862.1 508.1 865.5 508.2 868.5 507.8C871.5 507.4 874.4 506.0 877.4 505.7C880.4 505.4 883.8 505.6 886.3 505.8C888.8 506.0 890.2 506.6 892.4 506.7C894.6 506.8 897.1 506.7 899.5 506.2C901.9 505.7 904.4 504.3 906.5 503.7C908.6 503.1 910.6 502.6 912.0 502.5C913.4 502.4 914.2 504.1 914.9 503.4C915.6 502.6 915.9 500.3 916.3 498.0C916.6 495.7 916.6 493.3 917.0 489.6C917.4 485.9 918.0 480.3 918.6 475.8C919.2 471.3 920.2 464.7 920.5 462.5" stroke="#dc585c"/>
<path d="M0.0 360.0C1.3 360.0 5.8 359.5 8.0 360.0C10.2 360.5 10.0 363.3 13.0 362.8C16.0 362.3 21.3 358.9 26.0 357.0C30.7 355.1 37.7 355.1 41.0 351.3C44.3 347.5 44.1 341.5 46.0 334.0C47.9 326.5 50.8 311.7 52.5 306.4C54.2 301.1 54.8 301.4 56.4 302.0C58.0 302.6 59.8 305.9 61.9 310.0C64.0 314.1 66.7 320.4 68.7 326.3C70.7 332.2 72.2 340.8 73.9 345.2C75.6 349.6 77.0 350.3 79.0 353.0C81.0 355.7 83.9 358.5 85.9 361.5C87.9 364.5 89.3 368.7 91.0 371.0C92.7 373.3 94.5 374.9 96.2 375.2C97.9 375.4 99.6 372.6 101.3 372.5C103.0 372.4 105.0 373.7 106.5 374.4C108.0 375.1 108.8 375.6 110.3 376.5C111.8 377.4 113.7 379.3 115.4 380.1C117.1 380.9 118.9 380.8 120.6 381.2C122.3 381.6 123.9 382.7 125.7 382.7C127.5 382.7 130.0 380.9 131.7 381.0C133.4 381.1 134.4 383.5 136.0 383.3C137.6 383.1 139.5 380.4 141.2 379.8C142.9 379.2 144.6 379.9 146.3 380.0C148.0 380.1 149.8 379.8 151.5 380.6C153.2 381.4 154.9 383.2 156.6 384.6C158.3 386.0 160.2 387.6 161.8 389.0C163.4 390.4 164.8 392.2 166.1 393.0C167.4 393.8 168.2 394.1 169.5 393.8C170.8 393.5 172.4 391.9 173.8 391.3C175.2 390.7 176.7 391.4 178.1 390.4C179.5 389.4 180.6 386.3 182.4 385.2C184.2 384.1 187.3 385.1 189.2 383.5C191.0 381.9 191.8 378.8 193.5 375.8C195.2 372.8 197.8 369.2 199.5 365.5C201.2 361.8 202.5 358.1 203.8 353.5C205.1 348.9 206.3 342.6 207.3 338.0C208.3 333.4 208.9 329.7 210.0 326.0C211.1 322.3 212.5 318.3 213.8 316.0C215.1 313.7 216.6 310.1 218.0 312.0C219.4 313.9 220.2 322.8 222.0 327.7C223.8 332.6 226.1 337.6 228.5 341.5C230.9 345.4 233.9 349.7 236.7 351.3C239.4 352.9 242.3 352.1 245.0 351.3C247.7 350.5 250.6 347.5 253.0 346.7C255.4 345.9 257.8 346.5 259.7 346.7C261.6 346.9 263.4 344.6 264.6 348.0C265.8 351.4 265.9 360.6 267.0 367.0C268.1 373.4 269.5 382.0 271.0 386.7C272.5 391.4 274.3 394.3 276.0 395.0C277.7 395.7 279.2 393.5 281.0 391.0C282.8 388.5 284.7 384.8 287.0 380.0C289.3 375.2 292.7 367.2 295.0 362.0C297.3 356.8 298.9 352.7 301.0 349.0C303.1 345.3 304.9 343.2 307.3 340.0C309.7 336.8 313.3 334.0 315.5 329.8C317.7 325.6 318.5 319.9 320.4 315.0C322.3 310.1 324.8 304.0 327.0 300.3C329.2 296.6 331.6 294.4 333.5 293.0C335.4 291.6 336.6 292.1 338.7 292.0C340.8 291.9 344.0 293.1 346.2 292.7C348.4 292.3 349.9 291.4 351.8 289.5C353.7 287.6 355.7 283.5 357.4 281.0C359.1 278.5 360.8 275.7 362.0 274.5C363.2 273.3 363.9 273.1 364.9 273.6C365.8 274.1 366.7 277.7 367.7 277.3C368.7 276.9 369.8 272.0 370.9 271.4C372.0 270.8 373.0 272.0 374.2 273.6C375.4 275.2 376.4 278.7 378.0 281.0C379.6 283.3 381.7 285.2 383.6 287.6C385.5 290.0 387.3 293.3 389.2 295.1C391.1 296.9 393.3 297.6 394.8 298.3C396.3 299.1 396.3 298.9 398.2 299.6C400.1 300.4 404.2 301.7 406.4 302.8C408.6 303.9 409.9 305.6 411.3 306.0C412.7 306.4 413.8 302.0 414.6 305.0C415.4 308.0 415.4 317.5 416.2 324.0C417.0 330.5 418.4 337.2 419.5 343.8C420.6 350.4 421.4 357.9 422.8 363.4C424.2 368.8 426.1 372.1 427.7 376.5C429.3 380.9 431.2 386.3 432.6 390.0C434.0 393.7 434.3 394.6 436.0 398.8C437.7 403.0 440.4 410.6 442.6 415.2C444.8 419.8 446.8 423.6 449.0 426.6C451.2 429.6 453.8 432.6 455.7 433.2C457.6 433.8 459.0 430.9 460.6 430.0C462.2 429.1 463.9 429.5 465.5 427.6C467.1 425.7 468.9 422.0 470.4 418.4C471.9 414.8 473.3 408.3 474.7 406.0C476.1 403.7 477.4 404.3 478.6 404.7C479.8 405.1 480.5 405.5 481.9 408.6C483.3 411.7 484.9 419.6 486.8 423.3C488.7 427.0 490.9 429.4 493.3 430.9C495.8 432.4 498.8 431.3 501.5 432.2C504.2 433.1 507.2 434.6 509.7 436.4C512.2 438.2 513.8 440.6 516.3 443.0C518.8 445.4 521.8 448.3 524.5 450.5C527.2 452.7 530.0 455.1 532.7 456.0C535.4 456.9 537.7 456.1 540.8 455.7C543.9 455.3 547.3 454.2 551.2 453.6C555.1 453.0 561.2 451.3 564.3 452.1C567.4 452.9 567.8 456.5 570.0 458.3C572.2 460.1 574.9 461.9 577.4 463.0C579.9 464.1 582.7 464.6 584.9 465.2C587.1 465.8 588.9 467.0 590.5 466.4C592.1 465.8 592.7 461.8 594.3 461.5C595.9 461.2 598.0 463.3 599.9 464.5C601.8 465.7 603.6 466.7 605.5 468.6C607.4 470.5 609.5 474.2 611.1 476.1C612.7 478.0 613.3 478.6 614.9 480.2C616.5 481.8 618.3 483.8 620.5 485.4C622.7 487.0 625.2 488.9 628.0 490.1C630.8 491.4 634.5 492.5 637.3 492.9C640.1 493.3 642.3 493.2 644.8 492.6C647.3 492.0 650.4 490.0 652.3 489.2C654.2 488.4 654.3 488.5 656.3 487.9C658.3 487.3 661.8 486.0 664.5 485.6C667.2 485.2 670.0 486.2 672.7 485.6C675.4 485.1 677.9 483.1 680.8 482.3C683.7 481.5 687.1 481.5 690.0 481.0C692.9 480.5 695.8 480.0 698.2 479.2C700.7 478.4 702.8 477.1 704.7 476.0C706.6 474.9 707.8 472.5 709.7 472.7C711.6 472.9 714.0 475.8 716.2 477.0C718.4 478.2 720.6 479.0 722.8 480.2C725.0 481.4 727.1 482.2 729.3 484.0C731.5 485.8 733.7 487.7 735.9 490.7C738.1 493.7 740.5 499.2 742.4 502.0C744.3 504.8 745.4 506.0 747.3 507.7C749.2 509.4 751.4 510.8 753.9 512.0C756.4 513.2 759.0 514.1 762.0 515.2C765.0 516.3 768.6 518.0 771.9 518.5C775.2 519.0 778.4 519.0 781.7 518.5C785.0 518.0 788.2 515.5 791.5 515.2C794.8 514.9 798.1 516.2 801.4 516.9C804.7 517.6 807.9 518.7 811.2 519.5C814.5 520.3 817.7 521.2 821.0 521.8C824.3 522.4 827.3 522.5 830.8 523.0C834.3 523.5 838.1 524.5 841.9 524.7C845.7 524.9 849.8 524.1 853.7 524.0C857.7 523.9 861.7 524.2 865.6 524.0C869.5 523.8 874.3 522.9 877.4 522.6C880.5 522.3 881.0 522.3 884.0 522.2C887.0 522.1 892.5 521.9 895.2 522.2C897.9 522.5 898.6 523.4 900.2 524.0C901.8 524.6 903.2 525.4 905.0 526.1C906.8 526.8 909.3 527.6 910.7 528.2C912.1 528.8 912.8 529.0 913.5 529.6C914.2 530.2 914.3 529.5 914.9 531.7C915.5 533.9 916.2 539.1 917.0 542.9C917.8 546.6 919.2 551.9 919.8 554.2C920.4 556.6 920.5 556.5 920.6 557.0" stroke="#3f947c"/>
<path d="M0.0 316.0C1.6 313.3 6.5 304.1 9.8 300.0C13.1 295.9 15.9 293.8 19.7 291.6C23.5 289.4 29.0 289.1 32.8 286.7C36.6 284.3 39.6 280.1 42.6 277.0C45.6 273.9 48.5 269.8 50.8 268.0C53.1 266.2 54.5 265.6 56.4 266.0C58.3 266.4 59.9 267.1 62.3 270.3C64.6 273.5 67.5 280.6 70.5 285.0C73.5 289.4 76.8 293.3 80.3 296.6C83.8 299.9 88.3 301.4 91.8 304.8C95.3 308.2 98.8 313.2 101.3 316.9C103.8 320.6 104.8 323.7 106.9 326.9C109.0 330.1 111.4 333.7 113.7 336.3C116.0 338.9 118.3 340.8 120.6 342.3C122.9 343.8 124.6 344.4 127.5 345.3C130.4 346.2 134.4 346.8 137.8 347.5C141.2 348.2 145.2 349.3 148.1 349.7C150.9 350.1 152.9 350.3 154.9 350.1C156.9 349.9 158.4 349.3 160.1 348.3C161.8 347.3 163.2 346.5 165.2 344.1C167.2 341.7 169.8 337.2 172.1 333.8C174.4 330.4 176.6 326.8 178.9 323.5C181.2 320.2 183.5 317.1 185.8 314.0C188.1 310.9 190.4 307.6 192.7 304.6C195.0 301.6 197.3 299.3 199.5 296.0C201.7 292.7 203.2 287.8 205.6 285.0C208.0 282.2 211.4 279.8 213.8 279.0C216.2 278.2 217.9 279.0 220.3 280.0C222.8 281.0 225.5 282.6 228.5 285.0C231.5 287.4 235.1 291.6 238.4 294.3C241.7 297.1 244.9 299.8 248.2 301.5C251.5 303.2 255.7 304.1 258.0 304.8C260.3 305.6 260.8 306.1 262.0 306.0C263.2 305.9 264.4 305.0 265.5 304.0C266.6 303.0 267.4 302.2 268.5 300.0C269.6 297.8 270.7 294.2 272.0 291.0C273.3 287.8 274.3 284.4 276.1 280.7C277.9 277.0 280.7 272.1 283.0 268.6C285.3 265.2 288.2 262.0 290.0 260.0C291.8 258.0 291.9 258.2 294.0 256.5C296.1 254.8 299.4 252.1 302.4 249.6C305.4 247.1 309.2 243.9 312.2 241.4C315.2 238.9 317.9 234.8 320.4 234.8C322.9 234.8 324.8 239.7 327.0 241.4C329.2 243.2 331.1 244.9 333.5 245.3C335.9 245.7 338.7 244.9 341.7 244.0C344.7 243.1 347.9 241.1 351.5 239.7C355.1 238.3 359.7 235.8 363.0 235.5C366.3 235.2 368.2 236.8 371.2 238.0C374.2 239.2 377.7 241.4 381.0 243.0C384.3 244.6 387.7 246.3 390.8 247.5C393.9 248.7 396.9 248.7 399.8 250.4C402.7 252.2 405.5 255.8 408.0 258.0C410.5 260.2 412.7 260.1 414.6 263.5C416.5 266.9 417.6 273.9 419.5 278.3C421.4 282.7 423.3 285.1 426.0 289.7C428.7 294.3 433.8 302.6 435.9 306.0C438.0 309.4 437.0 307.5 438.6 310.0C440.2 312.5 443.1 316.7 445.6 320.9C448.1 325.1 450.8 330.3 453.4 335.0C456.0 339.7 458.9 344.6 461.2 349.0C463.5 353.4 465.6 358.0 467.4 361.5C469.2 365.0 470.8 368.0 472.1 370.1C473.4 372.2 474.0 373.2 475.2 374.0C476.4 374.8 477.8 373.9 479.1 374.7C480.4 375.5 481.6 377.0 483.0 378.6C484.4 380.2 486.1 382.4 487.7 384.1C489.3 385.8 490.8 387.5 492.4 388.8C494.0 390.1 495.3 390.9 497.1 391.9C498.9 392.9 501.2 393.8 503.3 395.0C505.4 396.2 507.8 396.8 510.0 398.9C512.2 401.0 514.4 404.9 516.8 407.6C519.2 410.3 522.1 413.3 524.3 415.1C526.5 416.9 527.9 417.6 529.9 418.2C531.9 418.8 533.6 418.6 536.0 418.4C538.4 418.2 541.7 417.5 544.0 417.2C546.3 416.9 547.2 416.3 549.8 416.8C552.4 417.3 556.4 418.6 559.7 420.0C563.0 421.4 566.2 423.7 569.5 425.0C572.8 426.3 576.0 427.1 579.3 427.6C582.5 428.2 586.0 427.1 589.0 428.3C592.0 429.5 594.5 432.4 597.3 434.8C600.0 437.2 602.5 440.2 605.5 443.0C608.5 445.8 612.0 449.2 615.3 451.8C618.6 454.4 621.9 456.4 625.2 458.4C628.5 460.4 631.7 462.0 635.0 463.6C638.3 465.2 641.5 466.7 644.8 468.2C648.1 469.7 651.3 471.7 654.6 472.5C657.9 473.3 661.2 473.3 664.5 473.1C667.8 472.9 671.0 472.1 674.3 471.5C677.5 470.9 681.4 469.9 684.0 469.2C686.6 468.5 687.4 468.2 690.0 467.3C692.6 466.4 696.5 464.7 699.8 463.8C703.1 462.9 706.4 462.0 709.7 461.8C713.0 461.6 716.2 461.8 719.5 462.8C722.8 463.8 726.0 466.1 729.3 467.7C732.5 469.3 735.7 471.0 739.0 472.7C742.3 474.4 745.7 475.7 749.0 477.6C752.3 479.5 755.5 481.8 758.8 484.0C762.1 486.2 765.3 488.6 768.6 490.7C771.9 492.8 775.1 495.1 778.4 496.6C781.7 498.1 785.0 498.7 788.3 499.8C791.6 500.9 794.7 501.9 798.0 503.0C801.3 504.1 804.6 505.4 807.9 506.4C811.2 507.3 814.4 508.0 817.7 508.7C821.0 509.4 823.6 509.2 827.6 510.3C831.6 511.4 837.5 514.1 841.9 515.2C846.2 516.3 849.8 516.7 853.7 516.7C857.7 516.7 861.7 515.7 865.6 515.2C869.5 514.7 873.5 514.0 877.4 513.7C881.3 513.5 885.4 513.5 889.3 513.7C893.2 514.0 897.0 514.6 901.0 515.2C905.0 515.9 910.5 517.7 913.0 517.6C915.5 517.5 915.0 516.0 916.3 514.9C917.5 513.8 919.8 511.4 920.5 510.7" stroke="#2f66f3"/>
</g>
<g shape-rendering="crispEdges"><rect x="2" y="252" width="1" height="10" fill="#0b0b0b"/><rect x="5" y="240" width="1" height="16" fill="#6cc8e0"/><rect x="8" y="224" width="1" height="30" fill="#6cc8e0"/><rect x="11" y="224" width="1" height="39" fill="#0b0b0b"/><rect x="17" y="244" width="1" height="27" fill="#6cc8e0"/><rect x="26" y="272" width="1" height="22" fill="#0b0b0b"/><rect x="35" y="281" width="1" height="7" fill="#0b0b0b"/><rect x="38" y="240" width="1" height="29" fill="#0b0b0b"/><rect x="41" y="241" width="1" height="23" fill="#6cc8e0"/><rect x="50" y="268" width="1" height="9" fill="#6cc8e0"/><rect x="82" y="303" width="1" height="15" fill="#0b0b0b"/><rect x="91" y="353" width="1" height="9" fill="#0b0b0b"/><rect x="97" y="338" width="1" height="8" fill="#0b0b0b"/><rect x="100" y="307" width="1" height="32" fill="#0b0b0b"/><rect x="109" y="341" width="1" height="20" fill="#6cc8e0"/><rect x="118" y="346" width="1" height="10" fill="#6cc8e0"/><rect x="136" y="348" width="1" height="21" fill="#6cc8e0"/><rect x="142" y="328" width="1" height="10" fill="#6cc8e0"/><rect x="157" y="312" width="1" height="23" fill="#0b0b0b"/><rect x="160" y="286" width="1" height="27" fill="#0b0b0b"/><rect x="169" y="278" width="1" height="21" fill="#0b0b0b"/><rect x="172" y="260" width="1" height="44" fill="#0b0b0b"/><rect x="174" y="268" width="1" height="13" fill="#0b0b0b"/><rect x="180" y="254" width="1" height="14" fill="#6cc8e0"/><rect x="186" y="245" width="1" height="22" fill="#0b0b0b"/><rect x="189" y="237" width="1" height="11" fill="#6cc8e0"/><rect x="195" y="215" width="1" height="67" fill="#6cc8e0"/><rect x="198" y="272" width="1" height="23" fill="#6cc8e0"/><rect x="204" y="275" width="1" height="15" fill="#0b0b0b"/><rect x="213" y="289" width="1" height="17" fill="#6cc8e0"/><rect x="216" y="301" width="1" height="14" fill="#0b0b0b"/><rect x="243" y="290" width="1" height="7" fill="#6cc8e0"/><rect x="249" y="277" width="1" height="14" fill="#6cc8e0"/><rect x="267" y="57" width="1" height="248" fill="#0b0b0b"/><rect x="270" y="101" width="1" height="62" fill="#6cc8e0"/><rect x="273" y="125" width="1" height="54" fill="#6cc8e0"/><rect x="276" y="140" width="1" height="80" fill="#0b0b0b"/><rect x="279" y="186" width="1" height="40" fill="#6cc8e0"/><rect x="284" y="223" width="1" height="29" fill="#0b0b0b"/><rect x="296" y="218" width="1" height="53" fill="#6cc8e0"/><rect x="302" y="138" width="1" height="134" fill="#0b0b0b"/><rect x="314" y="240" width="1" height="10" fill="#0b0b0b"/><rect x="323" y="196" width="1" height="68" fill="#0b0b0b"/><rect x="329" y="204" width="1" height="41" fill="#6cc8e0"/><rect x="332" y="234" width="1" height="15" fill="#0b0b0b"/><rect x="344" y="208" width="1" height="15" fill="#0b0b0b"/><rect x="362" y="200" width="1" height="32" fill="#0b0b0b"/><rect x="365" y="219" width="1" height="11" fill="#6cc8e0"/><rect x="368" y="249" width="1" height="33" fill="#6cc8e0"/><rect x="391" y="262" width="1" height="20" fill="#6cc8e0"/><rect x="394" y="261" width="1" height="21" fill="#0b0b0b"/><rect x="418" y="275" width="1" height="237" fill="#6cc8e0"/><rect x="442" y="344" width="1" height="29" fill="#0b0b0b"/><rect x="475" y="397" width="1" height="4" fill="#0b0b0b"/><rect x="481" y="386" width="1" height="10" fill="#0b0b0b"/><rect x="499" y="397" width="1" height="12" fill="#0b0b0b"/><rect x="502" y="397" width="1" height="13" fill="#0b0b0b"/><rect x="507" y="374" width="1" height="42" fill="#6cc8e0"/><rect x="531" y="434" width="1" height="16" fill="#6cc8e0"/><rect x="534" y="317" width="1" height="122" fill="#0b0b0b"/><rect x="537" y="374" width="1" height="38" fill="#6cc8e0"/><rect x="540" y="410" width="1" height="18" fill="#0b0b0b"/><rect x="543" y="394" width="1" height="11" fill="#0b0b0b"/><rect x="556" y="414" width="1" height="9" fill="#0b0b0b"/><rect x="573" y="432" width="1" height="13" fill="#0b0b0b"/><rect x="671" y="446" width="1" height="24" fill="#6cc8e0"/><rect x="677" y="463" width="1" height="5" fill="#0b0b0b"/><rect x="686" y="463" width="1" height="7" fill="#0b0b0b"/><rect x="695" y="458" width="1" height="6" fill="#0b0b0b"/><rect x="712" y="470" width="1" height="8" fill="#0b0b0b"/><rect x="721" y="470" width="1" height="5" fill="#0b0b0b"/><rect x="742" y="495" width="1" height="21" fill="#6cc8e0"/><rect x="751" y="486" width="1" height="14" fill="#0b0b0b"/><rect x="776" y="505" width="1" height="5" fill="#0b0b0b"/><rect x="805" y="484" width="1" height="25" fill="#6cc8e0"/><rect x="825" y="506" width="1" height="17" fill="#0b0b0b"/><rect x="855" y="502" width="1" height="16" fill="#0b0b0b"/><rect x="879" y="491" width="1" height="22" fill="#6cc8e0"/><rect x="897" y="512" width="1" height="8" fill="#6cc8e0"/><rect x="912" y="522" width="1" height="10" fill="#0b0b0b"/><rect x="915" y="526" width="1" height="6" fill="#0b0b0b"/><rect x="918" y="387" width="1" height="138" fill="#0b0b0b"/><rect x="921" y="429" width="1" height="23" fill="#0b0b0b"/><rect x="-2" y="273" width="3" height="21" fill="#0b0b0b"/><rect x="1" y="259" width="3" height="3" fill="#0b0b0b"/><rect x="4" y="243" width="3" height="12" fill="#6cc8e0"/><rect x="7" y="242" width="3" height="12" fill="#6cc8e0"/><rect x="10" y="224" width="3" height="24" fill="#0b0b0b"/><rect x="13" y="224" width="3" height="18" fill="#6cc8e0"/><rect x="16" y="244" width="3" height="19" fill="#6cc8e0"/><rect x="19" y="256" width="3" height="21" fill="#6cc8e0"/><rect x="22" y="287" width="3" height="4" fill="#0b0b0b"/><rect x="25" y="272" width="3" height="10" fill="#0b0b0b"/><rect x="28" y="272" width="3" height="21" fill="#6cc8e0"/><rect x="31" y="283" width="3" height="10" fill="#6cc8e0"/><rect x="34" y="286" width="3" height="2" fill="#0b0b0b"/><rect x="37" y="244" width="3" height="25" fill="#0b0b0b"/><rect x="40" y="241" width="3" height="9" fill="#6cc8e0"/><rect x="43" y="264" width="3" height="1" fill="#0b0b0b"/><rect x="49" y="270" width="3" height="7" fill="#6cc8e0"/><rect x="52" y="270" width="3" height="2" fill="#6cc8e0"/><rect x="55" y="272" width="3" height="10" fill="#6cc8e0"/><rect x="58" y="272" width="3" height="22" fill="#6cc8e0"/><rect x="61" y="306" width="3" height="1" fill="#0b0b0b"/><rect x="64" y="320" width="3" height="10" fill="#0b0b0b"/><rect x="67" y="323" width="3" height="12" fill="#0b0b0b"/><rect x="69" y="327" width="3" height="1" fill="#0b0b0b"/><rect x="72" y="331" width="3" height="27" fill="#6cc8e0"/><rect x="75" y="344" width="3" height="1" fill="#0b0b0b"/><rect x="78" y="329" width="3" height="4" fill="#0b0b0b"/><rect x="81" y="303" width="3" height="13" fill="#0b0b0b"/><rect x="84" y="302" width="3" height="21" fill="#6cc8e0"/><rect x="87" y="320" width="3" height="26" fill="#6cc8e0"/><rect x="90" y="355" width="3" height="1" fill="#0b0b0b"/><rect x="93" y="348" width="3" height="1" fill="#0b0b0b"/><rect x="96" y="342" width="3" height="4" fill="#0b0b0b"/><rect x="99" y="310" width="3" height="29" fill="#0b0b0b"/><rect x="102" y="318" width="3" height="17" fill="#6cc8e0"/><rect x="105" y="349" width="3" height="7" fill="#0b0b0b"/><rect x="108" y="350" width="3" height="11" fill="#6cc8e0"/><rect x="111" y="350" width="3" height="24" fill="#6cc8e0"/><rect x="114" y="375" width="3" height="4" fill="#0b0b0b"/><rect x="117" y="350" width="3" height="6" fill="#6cc8e0"/><rect x="120" y="350" width="3" height="16" fill="#6cc8e0"/><rect x="123" y="359" width="3" height="6" fill="#0b0b0b"/><rect x="126" y="350" width="3" height="9" fill="#0b0b0b"/><rect x="129" y="334" width="3" height="17" fill="#0b0b0b"/><rect x="132" y="338" width="3" height="8" fill="#6cc8e0"/><rect x="135" y="348" width="3" height="18" fill="#6cc8e0"/><rect x="138" y="335" width="3" height="32" fill="#0b0b0b"/><rect x="141" y="335" width="3" height="3" fill="#6cc8e0"/><rect x="144" y="342" width="3" height="18" fill="#6cc8e0"/><rect x="147" y="360" width="3" height="1" fill="#6cc8e0"/><rect x="150" y="351" width="3" height="3" fill="#0b0b0b"/><rect x="153" y="349" width="3" height="9" fill="#0b0b0b"/><rect x="156" y="312" width="3" height="20" fill="#0b0b0b"/><rect x="159" y="292" width="3" height="21" fill="#0b0b0b"/><rect x="162" y="296" width="3" height="10" fill="#6cc8e0"/><rect x="165" y="290" width="3" height="13" fill="#0b0b0b"/><rect x="168" y="288" width="3" height="11" fill="#0b0b0b"/><rect x="171" y="273" width="3" height="19" fill="#0b0b0b"/><rect x="173" y="271" width="3" height="1" fill="#0b0b0b"/><rect x="176" y="273" width="3" height="7" fill="#0b0b0b"/><rect x="179" y="262" width="3" height="4" fill="#6cc8e0"/><rect x="182" y="265" width="3" height="5" fill="#6cc8e0"/><rect x="185" y="252" width="3" height="15" fill="#0b0b0b"/><rect x="188" y="244" width="3" height="4" fill="#6cc8e0"/><rect x="191" y="246" width="3" height="5" fill="#6cc8e0"/><rect x="194" y="242" width="3" height="40" fill="#6cc8e0"/><rect x="197" y="272" width="3" height="13" fill="#6cc8e0"/><rect x="200" y="281" width="3" height="7" fill="#6cc8e0"/><rect x="203" y="278" width="3" height="7" fill="#0b0b0b"/><rect x="206" y="273" width="3" height="1" fill="#0b0b0b"/><rect x="209" y="264" width="3" height="30" fill="#6cc8e0"/><rect x="212" y="294" width="3" height="12" fill="#6cc8e0"/><rect x="215" y="301" width="3" height="3" fill="#0b0b0b"/><rect x="218" y="300" width="3" height="27" fill="#6cc8e0"/><rect x="221" y="324" width="3" height="19" fill="#6cc8e0"/><rect x="224" y="331" width="3" height="5" fill="#6cc8e0"/><rect x="227" y="328" width="3" height="1" fill="#0b0b0b"/><rect x="230" y="312" width="3" height="14" fill="#0b0b0b"/><rect x="233" y="313" width="3" height="18" fill="#6cc8e0"/><rect x="236" y="318" width="3" height="11" fill="#0b0b0b"/><rect x="239" y="310" width="3" height="9" fill="#0b0b0b"/><rect x="242" y="292" width="3" height="3" fill="#6cc8e0"/><rect x="245" y="286" width="3" height="1" fill="#6cc8e0"/><rect x="248" y="282" width="3" height="4" fill="#6cc8e0"/><rect x="251" y="282" width="3" height="25" fill="#6cc8e0"/><rect x="254" y="297" width="3" height="11" fill="#0b0b0b"/><rect x="257" y="267" width="3" height="11" fill="#0b0b0b"/><rect x="260" y="272" width="3" height="48" fill="#6cc8e0"/><rect x="263" y="312" width="3" height="12" fill="#0b0b0b"/><rect x="266" y="152" width="3" height="153" fill="#0b0b0b"/><rect x="269" y="146" width="3" height="17" fill="#6cc8e0"/><rect x="272" y="159" width="3" height="20" fill="#6cc8e0"/><rect x="275" y="212" width="3" height="8" fill="#0b0b0b"/><rect x="278" y="212" width="3" height="14" fill="#6cc8e0"/><rect x="281" y="241" width="3" height="4" fill="#0b0b0b"/><rect x="283" y="223" width="3" height="15" fill="#0b0b0b"/><rect x="286" y="230" width="3" height="11" fill="#6cc8e0"/><rect x="289" y="245" width="3" height="14" fill="#6cc8e0"/><rect x="292" y="263" width="3" height="11" fill="#6cc8e0"/><rect x="295" y="238" width="3" height="33" fill="#6cc8e0"/><rect x="298" y="271" width="3" height="5" fill="#6cc8e0"/><rect x="301" y="178" width="3" height="94" fill="#0b0b0b"/><rect x="304" y="185" width="3" height="60" fill="#6cc8e0"/><rect x="307" y="244" width="3" height="6" fill="#6cc8e0"/><rect x="310" y="268" width="3" height="13" fill="#6cc8e0"/><rect x="313" y="244" width="3" height="6" fill="#0b0b0b"/><rect x="316" y="246" width="3" height="18" fill="#6cc8e0"/><rect x="319" y="272" width="3" height="2" fill="#6cc8e0"/><rect x="322" y="228" width="3" height="36" fill="#0b0b0b"/><rect x="325" y="231" width="3" height="15" fill="#6cc8e0"/><rect x="328" y="241" width="3" height="4" fill="#6cc8e0"/><rect x="331" y="241" width="3" height="8" fill="#0b0b0b"/><rect x="334" y="234" width="3" height="9" fill="#6cc8e0"/><rect x="337" y="232" width="3" height="8" fill="#0b0b0b"/><rect x="340" y="228" width="3" height="2" fill="#0b0b0b"/><rect x="343" y="208" width="3" height="7" fill="#0b0b0b"/><rect x="346" y="215" width="3" height="16" fill="#6cc8e0"/><rect x="349" y="226" width="3" height="2" fill="#0b0b0b"/><rect x="352" y="228" width="3" height="5" fill="#6cc8e0"/><rect x="355" y="203" width="3" height="11" fill="#6cc8e0"/><rect x="358" y="233" width="3" height="1" fill="#0b0b0b"/><rect x="361" y="221" width="3" height="11" fill="#0b0b0b"/><rect x="364" y="225" width="3" height="5" fill="#6cc8e0"/><rect x="367" y="249" width="3" height="20" fill="#6cc8e0"/><rect x="370" y="251" width="3" height="13" fill="#0b0b0b"/><rect x="373" y="258" width="3" height="5" fill="#0b0b0b"/><rect x="376" y="277" width="3" height="18" fill="#6cc8e0"/><rect x="379" y="277" width="3" height="18" fill="#0b0b0b"/><rect x="382" y="277" width="3" height="10" fill="#0b0b0b"/><rect x="385" y="274" width="3" height="9" fill="#0b0b0b"/><rect x="388" y="272" width="3" height="2" fill="#6cc8e0"/><rect x="390" y="278" width="3" height="4" fill="#6cc8e0"/><rect x="393" y="261" width="3" height="17" fill="#0b0b0b"/><rect x="396" y="258" width="3" height="2" fill="#0b0b0b"/><rect x="399" y="255" width="3" height="5" fill="#0b0b0b"/><rect x="402" y="276" width="3" height="3" fill="#6cc8e0"/><rect x="405" y="280" width="3" height="2" fill="#0b0b0b"/><rect x="408" y="267" width="3" height="1" fill="#0b0b0b"/><rect x="411" y="288" width="3" height="1" fill="#0b0b0b"/><rect x="414" y="271" width="3" height="17" fill="#6cc8e0"/><rect x="417" y="275" width="3" height="125" fill="#6cc8e0"/><rect x="420" y="373" width="3" height="17" fill="#0b0b0b"/><rect x="423" y="352" width="3" height="27" fill="#0b0b0b"/><rect x="426" y="335" width="3" height="8" fill="#0b0b0b"/><rect x="429" y="343" width="3" height="19" fill="#6cc8e0"/><rect x="432" y="358" width="3" height="14" fill="#6cc8e0"/><rect x="435" y="376" width="3" height="1" fill="#0b0b0b"/><rect x="438" y="364" width="3" height="1" fill="#0b0b0b"/><rect x="441" y="360" width="3" height="13" fill="#0b0b0b"/><rect x="444" y="378" width="3" height="1" fill="#6cc8e0"/><rect x="447" y="378" width="3" height="4" fill="#6cc8e0"/><rect x="450" y="378" width="3" height="4" fill="#6cc8e0"/><rect x="453" y="379" width="3" height="1" fill="#6cc8e0"/><rect x="456" y="380" width="3" height="1" fill="#6cc8e0"/><rect x="459" y="370" width="3" height="3" fill="#0b0b0b"/><rect x="462" y="364" width="3" height="2" fill="#0b0b0b"/><rect x="465" y="380" width="3" height="10" fill="#6cc8e0"/><rect x="468" y="387" width="3" height="2" fill="#6cc8e0"/><rect x="471" y="393" width="3" height="1" fill="#6cc8e0"/><rect x="474" y="399" width="3" height="1" fill="#0b0b0b"/><rect x="477" y="392" width="3" height="1" fill="#6cc8e0"/><rect x="480" y="393" width="3" height="3" fill="#0b0b0b"/><rect x="483" y="418" width="3" height="10" fill="#6cc8e0"/><rect x="486" y="416" width="3" height="14" fill="#6cc8e0"/><rect x="489" y="425" width="3" height="3" fill="#0b0b0b"/><rect x="492" y="422" width="3" height="9" fill="#6cc8e0"/><rect x="495" y="393" width="3" height="28" fill="#0b0b0b"/><rect x="498" y="397" width="3" height="2" fill="#0b0b0b"/><rect x="501" y="397" width="3" height="2" fill="#0b0b0b"/><rect x="503" y="397" width="3" height="5" fill="#0b0b0b"/><rect x="506" y="396" width="3" height="20" fill="#6cc8e0"/><rect x="509" y="401" width="3" height="21" fill="#6cc8e0"/><rect x="512" y="412" width="3" height="16" fill="#6cc8e0"/><rect x="515" y="430" width="3" height="10" fill="#6cc8e0"/><rect x="518" y="431" width="3" height="3" fill="#0b0b0b"/><rect x="521" y="434" width="3" height="9" fill="#6cc8e0"/><rect x="524" y="438" width="3" height="6" fill="#6cc8e0"/><rect x="527" y="441" width="3" height="4" fill="#0b0b0b"/><rect x="530" y="440" width="3" height="5" fill="#6cc8e0"/><rect x="533" y="381" width="3" height="58" fill="#0b0b0b"/><rect x="536" y="387" width="3" height="25" fill="#6cc8e0"/><rect x="539" y="410" width="3" height="8" fill="#0b0b0b"/><rect x="542" y="403" width="3" height="2" fill="#0b0b0b"/><rect x="545" y="418" width="3" height="7" fill="#6cc8e0"/><rect x="548" y="419" width="3" height="7" fill="#0b0b0b"/><rect x="550" y="418" width="3" height="6" fill="#6cc8e0"/><rect x="552" y="419" width="3" height="9" fill="#0b0b0b"/><rect x="555" y="417" width="3" height="6" fill="#0b0b0b"/><rect x="557" y="418" width="3" height="4" fill="#0b0b0b"/><rect x="560" y="420" width="3" height="8" fill="#6cc8e0"/><rect x="563" y="426" width="3" height="1" fill="#6cc8e0"/><rect x="566" y="441" width="3" height="12" fill="#6cc8e0"/><rect x="569" y="441" width="3" height="14" fill="#0b0b0b"/><rect x="572" y="437" width="3" height="8" fill="#0b0b0b"/><rect x="575" y="442" width="3" height="2" fill="#6cc8e0"/><rect x="578" y="445" width="3" height="9" fill="#6cc8e0"/><rect x="580" y="446" width="3" height="8" fill="#0b0b0b"/><rect x="583" y="448" width="3" height="1" fill="#0b0b0b"/><rect x="586" y="448" width="3" height="1" fill="#0b0b0b"/><rect x="589" y="442" width="3" height="8" fill="#0b0b0b"/><rect x="592" y="441" width="3" height="8" fill="#0b0b0b"/><rect x="595" y="449" width="3" height="1" fill="#0b0b0b"/><rect x="598" y="450" width="3" height="7" fill="#0b0b0b"/><rect x="601" y="453" width="3" height="6" fill="#6cc8e0"/><rect x="604" y="456" width="3" height="8" fill="#6cc8e0"/><rect x="607" y="462" width="3" height="1" fill="#6cc8e0"/><rect x="610" y="465" width="3" height="11" fill="#6cc8e0"/><rect x="613" y="474" width="3" height="15" fill="#6cc8e0"/><rect x="616" y="469" width="3" height="15" fill="#0b0b0b"/><rect x="619" y="472" width="3" height="5" fill="#6cc8e0"/><rect x="622" y="476" width="3" height="4" fill="#6cc8e0"/><rect x="625" y="476" width="3" height="4" fill="#6cc8e0"/><rect x="628" y="476" width="3" height="5" fill="#0b0b0b"/><rect x="631" y="476" width="3" height="7" fill="#0b0b0b"/><rect x="634" y="472" width="3" height="2" fill="#0b0b0b"/><rect x="637" y="475" width="3" height="1" fill="#0b0b0b"/><rect x="640" y="472" width="3" height="5" fill="#6cc8e0"/><rect x="643" y="469" width="3" height="5" fill="#6cc8e0"/><rect x="646" y="474" width="3" height="1" fill="#0b0b0b"/><rect x="649" y="475" width="3" height="1" fill="#0b0b0b"/><rect x="652" y="472" width="3" height="7" fill="#0b0b0b"/><rect x="655" y="473" width="3" height="1" fill="#0b0b0b"/><rect x="660" y="461" width="3" height="8" fill="#0b0b0b"/><rect x="664" y="459" width="3" height="6" fill="#0b0b0b"/><rect x="667" y="455" width="3" height="5" fill="#0b0b0b"/><rect x="670" y="458" width="3" height="4" fill="#6cc8e0"/><rect x="672" y="459" width="3" height="12" fill="#6cc8e0"/><rect x="676" y="465" width="3" height="1" fill="#0b0b0b"/><rect x="678" y="460" width="3" height="5" fill="#0b0b0b"/><rect x="682" y="465" width="3" height="3" fill="#6cc8e0"/><rect x="685" y="466" width="3" height="1" fill="#0b0b0b"/><rect x="688" y="459" width="3" height="7" fill="#0b0b0b"/><rect x="691" y="452" width="3" height="4" fill="#0b0b0b"/><rect x="694" y="463" width="3" height="1" fill="#0b0b0b"/><rect x="697" y="451" width="3" height="12" fill="#0b0b0b"/><rect x="700" y="450" width="3" height="4" fill="#0b0b0b"/><rect x="703" y="453" width="3" height="2" fill="#0b0b0b"/><rect x="705" y="464" width="3" height="5" fill="#0b0b0b"/><rect x="708" y="463" width="3" height="10" fill="#6cc8e0"/><rect x="711" y="470" width="3" height="4" fill="#0b0b0b"/><rect x="714" y="467" width="3" height="5" fill="#6cc8e0"/><rect x="717" y="470" width="3" height="3" fill="#6cc8e0"/><rect x="720" y="472" width="3" height="1" fill="#0b0b0b"/><rect x="723" y="470" width="3" height="14" fill="#6cc8e0"/><rect x="726" y="477" width="3" height="1" fill="#0b0b0b"/><rect x="729" y="477" width="3" height="4" fill="#0b0b0b"/><rect x="732" y="480" width="3" height="4" fill="#6cc8e0"/><rect x="735" y="487" width="3" height="5" fill="#6cc8e0"/><rect x="738" y="492" width="3" height="2" fill="#6cc8e0"/><rect x="741" y="499" width="3" height="11" fill="#6cc8e0"/><rect x="744" y="501" width="3" height="6" fill="#6cc8e0"/><rect x="747" y="496" width="3" height="8" fill="#0b0b0b"/><rect x="750" y="490" width="3" height="10" fill="#0b0b0b"/><rect x="753" y="491" width="3" height="4" fill="#6cc8e0"/><rect x="756" y="495" width="3" height="13" fill="#6cc8e0"/><rect x="759" y="501" width="3" height="7" fill="#0b0b0b"/><rect x="762" y="501" width="3" height="1" fill="#0b0b0b"/><rect x="765" y="505" width="3" height="1" fill="#0b0b0b"/><rect x="769" y="507" width="3" height="1" fill="#6cc8e0"/><rect x="772" y="507" width="3" height="3" fill="#0b0b0b"/><rect x="775" y="508" width="3" height="1" fill="#0b0b0b"/><rect x="778" y="507" width="3" height="1" fill="#0b0b0b"/><rect x="780" y="506" width="3" height="4" fill="#0b0b0b"/><rect x="783" y="498" width="3" height="7" fill="#0b0b0b"/><rect x="786" y="498" width="3" height="8" fill="#6cc8e0"/><rect x="796" y="506" width="3" height="8" fill="#6cc8e0"/><rect x="799" y="512" width="3" height="3" fill="#6cc8e0"/><rect x="801" y="510" width="3" height="3" fill="#0b0b0b"/><rect x="804" y="496" width="3" height="9" fill="#6cc8e0"/><rect x="807" y="510" width="3" height="8" fill="#6cc8e0"/><rect x="810" y="510" width="3" height="10" fill="#0b0b0b"/><rect x="813" y="513" width="3" height="7" fill="#6cc8e0"/><rect x="816" y="512" width="3" height="6" fill="#0b0b0b"/><rect x="819" y="514" width="3" height="4" fill="#6cc8e0"/><rect x="822" y="512" width="3" height="5" fill="#6cc8e0"/><rect x="824" y="509" width="3" height="14" fill="#0b0b0b"/><rect x="828" y="515" width="3" height="5" fill="#6cc8e0"/><rect x="830" y="517" width="3" height="3" fill="#6cc8e0"/><rect x="833" y="521" width="3" height="1" fill="#0b0b0b"/><rect x="836" y="515" width="3" height="3" fill="#0b0b0b"/><rect x="839" y="518" width="3" height="3" fill="#6cc8e0"/><rect x="842" y="514" width="3" height="7" fill="#6cc8e0"/><rect x="845" y="511" width="3" height="11" fill="#6cc8e0"/><rect x="848" y="521" width="3" height="1" fill="#0b0b0b"/><rect x="851" y="520" width="3" height="3" fill="#0b0b0b"/><rect x="854" y="506" width="3" height="12" fill="#0b0b0b"/><rect x="857" y="508" width="3" height="7" fill="#6cc8e0"/><rect x="860" y="512" width="3" height="3" fill="#0b0b0b"/><rect x="863" y="509" width="3" height="3" fill="#0b0b0b"/><rect x="866" y="512" width="3" height="1" fill="#0b0b0b"/><rect x="869" y="511" width="3" height="1" fill="#6cc8e0"/><rect x="872" y="509" width="3" height="3" fill="#0b0b0b"/><rect x="875" y="508" width="3" height="2" fill="#6cc8e0"/><rect x="878" y="510" width="3" height="3" fill="#6cc8e0"/><rect x="881" y="512" width="3" height="5" fill="#6cc8e0"/><rect x="884" y="509" width="3" height="1" fill="#0b0b0b"/><rect x="891" y="518" width="3" height="2" fill="#0b0b0b"/><rect x="893" y="518" width="3" height="2" fill="#0b0b0b"/><rect x="896" y="512" width="3" height="4" fill="#6cc8e0"/><rect x="899" y="520" width="3" height="2" fill="#6cc8e0"/><rect x="902" y="525" width="3" height="1" fill="#0b0b0b"/><rect x="906" y="526" width="3" height="2" fill="#6cc8e0"/><rect x="909" y="528" width="3" height="2" fill="#6cc8e0"/><rect x="911" y="526" width="3" height="6" fill="#0b0b0b"/><rect x="914" y="528" width="3" height="2" fill="#0b0b0b"/><rect x="917" y="451" width="3" height="74" fill="#0b0b0b"/><rect x="920" y="436" width="3" height="5" fill="#0b0b0b"/></g>
<line x1="0" y1="435.5" x2="1061" y2="435.5" stroke="#131722" stroke-width="1" stroke-dasharray="1.2 2"/>
<g><circle cx="935.2" cy="565" r="10.3" fill="#fff" stroke="#dc5248" stroke-width="1.6"/></g>
<g><circle cx="932" cy="565" r="10.3" fill="#fff" stroke="#dc5248" stroke-width="1.6"/></g>
<g><circle cx="929" cy="565" r="10.3" fill="#fff" stroke="#dc5248" stroke-width="1.6"/><clipPath id="fc9290"><circle cx="929" cy="565" r="8.2"/></clipPath><g clip-path="url(#fc9290)"><rect x="920" y="556" width="18" height="18" fill="#fff"/><rect x="920" y="557.2" width="18" height="3.1" fill="#e06055"/><rect x="920" y="563.1" width="18" height="3.4" fill="#e06055"/><rect x="920" y="569.3" width="18" height="3.2" fill="#e06055"/><rect x="920" y="556" width="11.1" height="10.8" fill="#2f86e0"/><g fill="#e8f2fc"><rect x="922.7" y="558.4" width="1.1" height="1.1"/><rect x="922.7" y="561.0" width="1.1" height="1.1"/><rect x="922.7" y="563.6" width="1.1" height="1.1"/><rect x="925.2" y="558.4" width="1.1" height="1.1"/><rect x="925.2" y="561.0" width="1.1" height="1.1"/><rect x="925.2" y="563.6" width="1.1" height="1.1"/><rect x="927.7" y="558.4" width="1.1" height="1.1"/><rect x="927.7" y="561.0" width="1.1" height="1.1"/><rect x="927.7" y="563.6" width="1.1" height="1.1"/></g></g></g>
<g><circle cx="920.1" cy="565" r="10.3" fill="#fff" stroke="#dc5248" stroke-width="1.6"/><clipPath id="fc9201"><circle cx="920.1" cy="565" r="8.2"/></clipPath><g clip-path="url(#fc9201)"><rect x="911.1" y="556" width="18" height="18" fill="#fff"/><rect x="911.1" y="557.2" width="18" height="3.1" fill="#e06055"/><rect x="911.1" y="563.1" width="18" height="3.4" fill="#e06055"/><rect x="911.1" y="569.3" width="18" height="3.2" fill="#e06055"/><rect x="911.1" y="556" width="11.1" height="10.8" fill="#2f86e0"/><g fill="#e8f2fc"><rect x="913.8" y="558.4" width="1.1" height="1.1"/><rect x="913.8" y="561.0" width="1.1" height="1.1"/><rect x="913.8" y="563.6" width="1.1" height="1.1"/><rect x="916.3" y="558.4" width="1.1" height="1.1"/><rect x="916.3" y="561.0" width="1.1" height="1.1"/><rect x="916.3" y="563.6" width="1.1" height="1.1"/><rect x="918.8" y="558.4" width="1.1" height="1.1"/><rect x="918.8" y="561.0" width="1.1" height="1.1"/><rect x="918.8" y="563.6" width="1.1" height="1.1"/></g></g></g>
</svg>
<span class="t" style="left:943.50px;top:46.80px;font-size:12px;color:#e8a045;letter-spacing:0.856px;">1 (0.1194)</span>
<span class="t" style="left:943.30px;top:148.80px;font-size:12px;color:#e8a045;letter-spacing:0.815px;">0.786 (0.0985)</span>
<span class="t" style="left:943.30px;top:228.80px;font-size:12px;color:#e8a045;letter-spacing:0.815px;">0.618 (0.0820)</span>
<span class="t" style="left:943.30px;top:284.80px;font-size:12px;color:#e8a045;letter-spacing:0.818px;">0.5 (0.0704)</span>
<span class="t" style="left:943.30px;top:340.80px;font-size:12px;color:#e8a045;letter-spacing:0.815px;">0.382 (0.0589)</span>
<span class="t" style="left:943.30px;top:409.80px;font-size:12px;color:#e8a045;letter-spacing:0.815px;">0.236 (0.0446)</span>
<span class="t" style="left:943.50px;top:521.80px;font-size:12px;color:#e8a045;letter-spacing:0.756px;">0 (0.0214)</span>
<div class="b" style="left:0;top:3px;width:681px;height:24px;background:rgba(255,255,255,0.5);border-radius:2px"></div>
<div class="b" style="left:0;top:69px;width:286px;height:24px;background:rgba(255,255,255,0.5);border-radius:2px"></div>
<div class="b" style="left:0;top:93px;width:348px;height:24px;background:rgba(255,255,255,0.5);border-radius:2px"></div>
<svg width="40" height="30" viewBox="0 0 40 30"><circle cx="17" cy="14.9" r="8.9" fill="#15171c"/><g fill="none" stroke="#c4c4c4" stroke-width="0.75" stroke-linejoin="round"><path d="M12 14.9L14.6 12.8H19.4L22 14.9L19.4 17H14.6Z"/><path d="M17 10L19.2 14.9L17 19.9L14.8 14.9Z"/></g></svg>
<span class="t" style="left:30.30px;top:6.00px;font-size:16px;color:#16181d;letter-spacing:-0.042px;">Cartesi / U.S. dollar · 1D · Bitstamp</span>
<svg width="320" height="30" viewBox="0 0 320 30"><circle cx="296" cy="15" r="8.9" fill="#4f9a86" fill-opacity="0.22"/><circle cx="296" cy="15" r="4.1" fill="#3d6b5c"/></svg>
<span class="t" style="left:314.50px;top:5.50px;font-size:13px;color:#17181c;">O</span>
<span class="t" style="left:324.60px;top:5.50px;font-size:13px;color:#4f9a86;letter-spacing:0.720px;">0.0401</span>
<span class="t" style="left:377.20px;top:5.50px;font-size:13px;color:#17181c;">H</span>
<span class="t" style="left:386.90px;top:5.50px;font-size:13px;color:#4f9a86;letter-spacing:0.980px;">0.0424</span>
<span class="t" style="left:439.40px;top:5.50px;font-size:13px;color:#17181c;">L</span>
<span class="t" style="left:447.00px;top:5.50px;font-size:13px;color:#4f9a86;letter-spacing:0.740px;">0.0364</span>
<span class="t" style="left:499.00px;top:5.50px;font-size:13px;color:#17181c;">C</span>
<span class="t" style="left:509.00px;top:5.50px;font-size:13px;color:#4f9a86;letter-spacing:0.740px;">0.0412</span>
<span class="t" style="left:561.00px;top:5.50px;font-size:13px;color:#4f9a86;letter-spacing:0.580px;">+0.0033 (+8.71%)</span>
<div class="b" style="left:8px;top:31px;width:64px;height:32px;border:1px solid #e0575b;border-radius:5px"></div>
<div class="b" style="left:127px;top:31px;width:64px;height:32px;border:1px solid #3b6cf2;border-radius:5px"></div>
<span class="t" style="left:19.60px;top:30.60px;font-size:13px;color:#e0575b;font-weight:bold;letter-spacing:0.680px;">0.0400</span>
<span class="t" style="left:28.00px;top:44.50px;font-size:11px;color:#e0575b;letter-spacing:-0.633px;">SELL</span>
<span class="t" style="left:83.00px;top:38.50px;font-size:10px;color:#17181c;letter-spacing:0.820px;">0.0004</span>
<span class="t" style="left:138.20px;top:30.60px;font-size:13px;color:#3b6cf2;font-weight:bold;letter-spacing:0.720px;">0.0404</span>
<span class="t" style="left:148.50px;top:44.50px;font-size:11px;color:#3b6cf2;letter-spacing:-0.300px;">BUY</span>
<span class="t" style="left:8.60px;top:71.50px;font-size:12px;color:#17181c;letter-spacing:-0.600px;">BB</span>
<span class="t" style="left:29.00px;top:71.50px;font-size:13px;color:#6f7380;letter-spacing:0.346px;">20 SMA close 2</span>
<span class="t" style="left:134.00px;top:71.50px;font-size:13px;color:#3b6cf2;letter-spacing:0.780px;">0.0257</span>
<span class="t" style="left:185.40px;top:71.50px;font-size:13px;color:#e0575b;letter-spacing:0.840px;">0.0354</span>
<span class="t" style="left:237.30px;top:71.50px;font-size:13px;color:#4f9a86;letter-spacing:0.820px;">0.0160</span>
<span class="t" style="left:8.60px;top:95.50px;font-size:13px;color:#17181c;letter-spacing:0.731px;">EMA 20/50/100/200</span>
<span class="t" style="left:144.30px;top:95.50px;font-size:13px;color:#d9553f;letter-spacing:0.840px;">0.0266</span>
<span class="t" style="left:196.00px;top:95.50px;font-size:13px;color:#e58a3e;letter-spacing:0.840px;">0.0266</span>
<span class="t" style="left:247.60px;top:95.50px;font-size:13px;color:#84e9f2;letter-spacing:0.840px;">0.0304</span>
<span class="t" style="left:299.40px;top:95.50px;font-size:13px;color:#2b58f2;letter-spacing:0.840px;">0.0412</span>
<div class="b" style="left:8px;top:120px;width:27px;height:19px;border:1px solid #dcdce0;border-radius:4px;background:#fff"></div>
<svg width="40" height="145"><path d="M18.5 132.3L22.4 128.5L26.3 132.3" fill="none" stroke="#131722" stroke-width="1.25"/></svg>
<div class="b" style="left:1065px;top:3px;width:62px;height:24px;border:1px solid #e4e4e9;border-radius:5px;background:#fff"></div>
<span class="t" style="left:1069.60px;top:5.50px;font-size:12px;color:#17181c;letter-spacing:-0.550px;">USD</span>
<svg width="1131" height="30"><path d="M1118.9 15.2l2.5 2.5 2.5-2.5" fill="none" stroke="#131722" stroke-width="1.25"/></svg>
<span class="t" style="left:1070.50px;top:44.20px;font-size:12px;color:#17181c;letter-spacing:0.960px;">0.1200</span>
<span class="t" style="left:1070.50px;top:92.60px;font-size:12px;color:#17181c;letter-spacing:1.140px;">0.1100</span>
<span class="t" style="left:1070.50px;top:141.00px;font-size:12px;color:#17181c;letter-spacing:0.960px;">0.1000</span>
<span class="t" style="left:1070.50px;top:189.40px;font-size:12px;color:#17181c;letter-spacing:0.960px;">0.0900</span>
<span class="t" style="left:1070.50px;top:237.80px;font-size:12px;color:#17181c;letter-spacing:0.960px;">0.0800</span>
<span class="t" style="left:1070.50px;top:286.20px;font-size:12px;color:#17181c;letter-spacing:0.960px;">0.0700</span>
<span class="t" style="left:1070.50px;top:334.60px;font-size:12px;color:#17181c;letter-spacing:0.960px;">0.0600</span>
<span class="t" style="left:1070.50px;top:383.00px;font-size:12px;color:#17181c;letter-spacing:0.960px;">0.0500</span>
<div class="b" style="left:1062px;top:409.5px;width:56px;height:17.5px;background:#2760f5;border-radius:1px"></div>
<span class="t" style="left:1070.50px;top:408.55px;font-size:12px;color:#fff;letter-spacing:0.960px;">0.0412</span>
<div class="b" style="left:1062px;top:458px;width:56px;height:17px;background:#df5d58;border-radius:1px"></div>
<span class="t" style="left:1070.50px;top:456.80px;font-size:12px;color:#fff;letter-spacing:0.960px;">0.0354</span>
<div class="b" style="left:1062px;top:480px;width:56px;height:18px;background:#9bf1f6;border-radius:1px"></div>
<span class="t" style="left:1070.50px;top:479.30px;font-size:12px;color:#17181c;letter-spacing:0.960px;">0.0304</span>
<div class="b" style="left:1062px;top:498px;width:56px;height:17px;background:#d9553f;border-radius:1px"></div>
<span class="t" style="left:1070.50px;top:496.80px;font-size:12px;color:#fff;letter-spacing:0.960px;">0.0266</span>
<div class="b" style="left:1062px;top:515px;width:56px;height:17px;background:#e58a3e;border-radius:1px"></div>
<span class="t" style="left:1070.50px;top:513.80px;font-size:12px;color:#fff;letter-spacing:0.960px;">0.0266</span>
<div class="b" style="left:1062px;top:532px;width:56px;height:16px;background:#2760f5;border-radius:1px"></div>
<span class="t" style="left:1070.50px;top:530.30px;font-size:12px;color:#fff;letter-spacing:0.960px;">0.0257</span>
<div class="b" style="left:1062px;top:548px;width:56px;height:18px;background:#55917d;border-radius:1px"></div>
<span class="t" style="left:1070.50px;top:548.10px;font-size:12px;color:#fff;letter-spacing:0.960px;">0.0160</span>
<div class="b" style="left:1062px;top:427px;width:67px;height:31px;background:#131313;border-radius:2px"></div>
<span class="t" style="left:1070.50px;top:425.60px;font-size:12px;color:#fff;letter-spacing:0.960px;">0.0412</span>
<span class="t" style="left:1070.50px;top:440.00px;font-size:12px;color:#cfcfcf;letter-spacing:0.857px;">16:48:40</span>
<div class="b" style="left:1000px;top:427px;width:60px;height:17px;background:#131313;border-radius:2px"></div>
<span class="t" style="left:1005.00px;top:425.80px;font-size:12px;color:#fff;letter-spacing:-0.200px;">CTSIUSD</span>
<svg width="200" height="641"><g fill="#131722"><path d="M11 549h12v14.6h-6.2v-7.6H11z"/><circle cx="28" cy="552" r="2.6"/><path d="M32 549h9l-5.8 14.6h-7z"/></g></svg>
<span class="t" style="left:48.60px;top:546.20px;font-size:20.5px;color:#17181c;font-weight:bold;">TradingView</span>
<div class="b" style="left:0;top:606px;width:1131px;height:1px;background:#e4e5ea"></div>
<span class="t" style="left:57.38px;top:582.80px;font-size:12px;color:#17181c;letter-spacing:0.473px;">Jun</span>
<span class="t" style="left:127.38px;top:582.80px;font-size:12px;color:#17181c;letter-spacing:0.470px;">Jul</span>
<span class="t" style="left:210.87px;top:582.80px;font-size:12px;color:#17181c;letter-spacing:0.426px;">Aug</span>
<span class="t" style="left:299.87px;top:582.80px;font-size:12px;color:#17181c;letter-spacing:0.426px;">Sep</span>
<span class="t" style="left:384.72px;top:582.80px;font-size:12px;color:#17181c;letter-spacing:0.434px;">Oct</span>
<span class="t" style="left:466.38px;top:582.80px;font-size:12px;color:#17181c;letter-spacing:0.470px;">Nov</span>
<span class="t" style="left:555.38px;top:582.80px;font-size:12px;color:#17181c;letter-spacing:0.470px;">Dec</span>
<span class="t" style="left:734.21px;top:582.80px;font-size:12px;color:#17181c;letter-spacing:0.438px;">Feb</span>
<span class="t" style="left:817.52px;top:582.80px;font-size:12px;color:#17181c;letter-spacing:0.434px;">Mar</span>
<span class="t" style="left:904.71px;top:582.80px;font-size:12px;color:#17181c;letter-spacing:0.438px;">Apr</span>
<span class="t" style="left:991.71px;top:582.80px;font-size:12px;color:#17181c;letter-spacing:0.435px;">May</span>
<span class="t" style="left:637.20px;top:582.80px;font-size:12px;color:#17181c;font-weight:bold;letter-spacing:1.767px;">2026</span>
<svg width="1131" height="641"><g fill="none" stroke="#131722" stroke-width="1.1"><path d="M1090.6 592.4L1093.7 586.4H1101.4L1104.5 592.4L1101.4 598.4H1093.7Z" stroke-linejoin="round"/><circle cx="1097.5" cy="592.4" r="2"/></g></svg>
<span class="t" style="left:13.80px;top:617.00px;font-size:14px;color:#17181c;letter-spacing:-0.100px;">1D</span>
<span class="t" style="left:44.40px;top:617.00px;font-size:14px;color:#17181c;letter-spacing:-0.200px;">5D</span>
<span class="t" style="left:74.80px;top:617.00px;font-size:14px;color:#17181c;letter-spacing:1.300px;">1M</span>
<span class="t" style="left:108.20px;top:617.00px;font-size:14px;color:#17181c;letter-spacing:0.800px;">3M</span>
<span class="t" style="left:140.90px;top:617.00px;font-size:14px;color:#17181c;letter-spacing:1.300px;">6M</span>
<span class="t" style="left:173.80px;top:617.00px;font-size:14px;color:#17181c;letter-spacing:-0.300px;">YTD</span>
<span class="t" style="left:214.30px;top:617.00px;font-size:14px;color:#17181c;letter-spacing:-0.500px;">1Y</span>
<span class="t" style="left:244.40px;top:617.00px;font-size:14px;color:#17181c;letter-spacing:-0.200px;">All</span>
<div class="b" style="left:270px;top:615px;width:1px;height:22px;background:#e4e4e9"></div>
<svg width="400" height="641"><g fill="none" stroke="#131722" stroke-width="1.15" stroke-linecap="round" stroke-linejoin="round"><path d="M285.9 624.7V620.6a2 2 0 0 1 2-2H300.2a2 2 0 0 1 2 2V631.5a2 2 0 0 1-2 2H294.2"/><path d="M285.9 622.4H302.2M290.5 616V619.8M297.5 616V619.8M284.2 630.4H291.3M288.2 627.3L291.5 630.4L288.2 633.6"/></g></svg>
<span class="t" style="left:1029.80px;top:616.00px;font-size:14px;color:#17181c;letter-spacing:0.929px;">07:11:20</span>
<span class="t" style="left:1096.00px;top:616.00px;font-size:14px;color:#17181c;letter-spacing:-1.450px;">UTC</span>
</div></body></html>
